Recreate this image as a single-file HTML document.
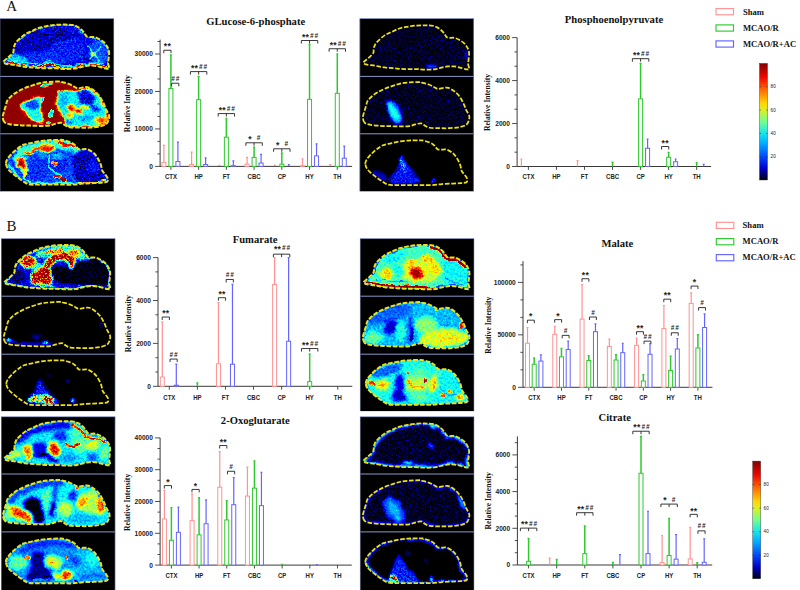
<!DOCTYPE html>
<html lang="en"><head><meta charset="utf-8"><title>Figure</title>
<style>
html,body{margin:0;padding:0;background:#fff}
svg{display:block}
.tk{font:bold 6.6px "Liberation Sans",Arial,sans-serif;fill:#222}
.ct{font:bold 7px "Liberation Sans",Arial,sans-serif;fill:#222}
.ti{font:bold 10.6px "Liberation Serif","Times New Roman",serif;fill:#111}
.yl{font:bold 7.6px "Liberation Serif","Times New Roman",serif;fill:#111}
.lg{font:bold 8.6px "Liberation Serif","Times New Roman",serif;fill:#111}
.st{font:bold 8.6px "Liberation Sans",Arial,sans-serif;fill:#222;letter-spacing:.2px}
.hs{font:italic bold 6.3px "Liberation Sans",Arial,sans-serif;fill:#222;letter-spacing:1px}
.cb{font:4.6px "Liberation Sans",Arial,sans-serif;fill:#181830}
.pl{font:15px "Liberation Serif","Times New Roman",serif;fill:#111}
</style></head><body>
<svg width="800" height="590" viewBox="0 0 800 590">
<defs>
<linearGradient id="jet" x1="0" y1="1" x2="0" y2="0">
<stop offset="0" stop-color="#000000"/><stop offset="0.025" stop-color="#000040"/><stop offset="0.1" stop-color="#0000c8"/>
<stop offset="0.2" stop-color="#0048ff"/><stop offset="0.32" stop-color="#00b0ff"/><stop offset="0.4" stop-color="#18e4ec"/><stop offset="0.5" stop-color="#70ff90"/>
<stop offset="0.6" stop-color="#dcf024"/><stop offset="0.66" stop-color="#ffd400"/><stop offset="0.78" stop-color="#ff6400"/><stop offset="0.88" stop-color="#f00800"/>
<stop offset="1" stop-color="#840000"/></linearGradient>

<filter id="hm" x="-0.02" y="-0.02" width="1.04" height="1.04" color-interpolation-filters="sRGB">
<feGaussianBlur in="SourceGraphic" stdDeviation="0.7" result="b0"/>
<feTurbulence type="fractalNoise" baseFrequency="0.11" numOctaves="2" seed="11" result="tw"/>
<feDisplacementMap in="b0" in2="tw" scale="6" xChannelSelector="R" yChannelSelector="G" result="b"/>
<feTurbulence type="fractalNoise" baseFrequency="0.55" numOctaves="2" seed="7" result="t"/>
<feColorMatrix in="t" type="matrix" values="1 0 0 0 0 1 0 0 0 0 1 0 0 0 0 0 0 0 0 1" result="n"/>
<feComposite in="b" in2="n" operator="arithmetic" k1="-0.15" k2="1.075" k3="0.36" k4="-0.18" result="v"/>
<feComponentTransfer in="v" result="c"><feFuncR type="table" tableValues="0 0 0 0 0 0 0 .25 .5 .75 1 1 1 1 .92 .68 .55"/><feFuncG type="table" tableValues="0 0 0 .25 .5 .75 1 1 1 1 1 .75 .5 .25 0 0 0"/><feFuncB type="table" tableValues="0 .62 1 1 1 1 1 .75 .5 .25 0 0 0 0 0 0 0"/><feFuncA type="linear" slope="0" intercept="1"/></feComponentTransfer>
<feGaussianBlur in="c" stdDeviation="0.45"/>
</filter>
<filter id="hd" x="-0.02" y="-0.02" width="1.04" height="1.04" color-interpolation-filters="sRGB">
<feGaussianBlur in="SourceGraphic" stdDeviation="0.9" result="b0"/>
<feTurbulence type="fractalNoise" baseFrequency="0.11" numOctaves="2" seed="11" result="tw"/>
<feDisplacementMap in="b0" in2="tw" scale="5" xChannelSelector="R" yChannelSelector="G" result="b"/>
<feTurbulence type="fractalNoise" baseFrequency="0.6" numOctaves="2" seed="7" result="t"/>
<feColorMatrix in="t" type="matrix" values="1 0 0 0 0 1 0 0 0 0 1 0 0 0 0 0 0 0 0 1" result="n0"/><feComponentTransfer in="n0" result="n"><feFuncR type="gamma" exponent="4"/><feFuncG type="gamma" exponent="4"/><feFuncB type="gamma" exponent="4"/></feComponentTransfer>
<feComposite in="b" in2="n" operator="arithmetic" k1="0.0" k2="1.0" k3="0.2" k4="0.0" result="v"/>
<feComponentTransfer in="v" result="c"><feFuncR type="table" tableValues="0 0 0 0 0 0 0 .25 .5 .75 1 1 1 1 .92 .68 .55"/><feFuncG type="table" tableValues="0 0 0 .25 .5 .75 1 1 1 1 1 .75 .5 .25 0 0 0"/><feFuncB type="table" tableValues="0 .62 1 1 1 1 1 .75 .5 .25 0 0 0 0 0 0 0"/><feFuncA type="linear" slope="0" intercept="1"/></feComponentTransfer>
<feGaussianBlur in="c" stdDeviation="0.45"/>
</filter>
<filter id="hs" x="-0.02" y="-0.02" width="1.04" height="1.04" color-interpolation-filters="sRGB">
<feGaussianBlur in="SourceGraphic" stdDeviation="0.8" result="b0"/>
<feTurbulence type="fractalNoise" baseFrequency="0.11" numOctaves="2" seed="11" result="tw"/>
<feDisplacementMap in="b0" in2="tw" scale="5" xChannelSelector="R" yChannelSelector="G" result="b"/>
<feTurbulence type="fractalNoise" baseFrequency="0.6" numOctaves="2" seed="7" result="t"/>
<feColorMatrix in="t" type="matrix" values="1 0 0 0 0 1 0 0 0 0 1 0 0 0 0 0 0 0 0 1" result="n"/>
<feComposite in="b" in2="n" operator="arithmetic" k1="2.4" k2="-0.2" k3="0.0" k4="0.0" result="v"/>
<feComponentTransfer in="v" result="c"><feFuncR type="table" tableValues="0 0 0 0 0 0 0 .25 .5 .75 1 1 1 1 .92 .68 .55"/><feFuncG type="table" tableValues="0 0 0 .25 .5 .75 1 1 1 1 1 .75 .5 .25 0 0 0"/><feFuncB type="table" tableValues="0 .62 1 1 1 1 1 .75 .5 .25 0 0 0 0 0 0 0"/><feFuncA type="linear" slope="0" intercept="1"/></feComponentTransfer>
<feGaussianBlur in="c" stdDeviation="0.4"/>
</filter>
<filter id="hl" x="-0.02" y="-0.02" width="1.04" height="1.04" color-interpolation-filters="sRGB">
<feGaussianBlur in="SourceGraphic" stdDeviation="0.7" result="b0"/>
<feTurbulence type="fractalNoise" baseFrequency="0.11" numOctaves="2" seed="11" result="tw"/>
<feDisplacementMap in="b0" in2="tw" scale="5" xChannelSelector="R" yChannelSelector="G" result="b"/>
<feTurbulence type="fractalNoise" baseFrequency="0.45" numOctaves="2" seed="7" result="t"/>
<feColorMatrix in="t" type="matrix" values="1 0 0 0 0 1 0 0 0 0 1 0 0 0 0 0 0 0 0 1" result="n"/>
<feComposite in="b" in2="n" operator="arithmetic" k1="0.3" k2="0.85" k3="0.15" k4="-0.075" result="v"/>
<feComponentTransfer in="v" result="c"><feFuncR type="table" tableValues="0 0 0 0 0 0 0 .25 .5 .75 1 1 1 1 .92 .68 .55"/><feFuncG type="table" tableValues="0 0 0 .25 .5 .75 1 1 1 1 1 .75 .5 .25 0 0 0"/><feFuncB type="table" tableValues="0 .62 1 1 1 1 1 .75 .5 .25 0 0 0 0 0 0 0"/><feFuncA type="linear" slope="0" intercept="1"/></feComponentTransfer>
<feGaussianBlur in="c" stdDeviation="0.5"/>
</filter>
<filter id="hn" x="-0.02" y="-0.02" width="1.04" height="1.04" color-interpolation-filters="sRGB">
<feGaussianBlur in="SourceGraphic" stdDeviation="0.6" result="b0"/>
<feTurbulence type="fractalNoise" baseFrequency="0.11" numOctaves="2" seed="11" result="tw"/>
<feDisplacementMap in="b0" in2="tw" scale="5" xChannelSelector="R" yChannelSelector="G" result="b"/>
<feTurbulence type="fractalNoise" baseFrequency="0.6" numOctaves="2" seed="7" result="t"/>
<feColorMatrix in="t" type="matrix" values="1 0 0 0 0 1 0 0 0 0 1 0 0 0 0 0 0 0 0 1" result="n"/>
<feComposite in="b" in2="n" operator="arithmetic" k1="1.2" k2="0.4" k3="0.18" k4="-0.09" result="v"/>
<feComponentTransfer in="v" result="c"><feFuncR type="table" tableValues="0 0 0 0 0 0 0 .25 .5 .75 1 1 1 1 .92 .68 .55"/><feFuncG type="table" tableValues="0 0 0 .25 .5 .75 1 1 1 1 1 .75 .5 .25 0 0 0"/><feFuncB type="table" tableValues="0 .62 1 1 1 1 1 .75 .5 .25 0 0 0 0 0 0 0"/><feFuncA type="linear" slope="0" intercept="1"/></feComponentTransfer>
<feGaussianBlur in="c" stdDeviation="0.4"/>
</filter>
<filter id="ib16" x="0" y="0" width="1" height="1"><feGaussianBlur stdDeviation="1.7"/></filter>
<filter id="ib12" x="0" y="0" width="1" height="1"><feGaussianBlur stdDeviation="1.2"/></filter>
<filter id="ib10" x="0" y="0" width="1" height="1"><feGaussianBlur stdDeviation="1.0"/></filter>
<filter id="ib08" x="0" y="0" width="1" height="1"><feGaussianBlur stdDeviation="0.7"/></filter>
<filter id="ib06" x="0" y="0" width="1" height="1"><feGaussianBlur stdDeviation="0.5"/></filter>
<clipPath id="c0"><path d="M3.45 61.7C3.95 60.55 7.28 58.37 8.91 56.81C10.54 55.26 12.41 53.91 13.22 52.36C14.04 50.8 13.3 49.17 13.8 47.47C14.3 45.77 14.45 44.28 16.24 42.15C18.04 40.02 21.87 36.57 24.58 34.67C27.29 32.78 30.02 31.94 32.49 30.79C34.96 29.64 36.94 28.57 39.39 27.77C41.83 26.98 44.54 26.53 47.15 26.05C49.76 25.57 52.11 25.14 55.06 24.9C58 24.66 61.88 24.59 64.83 24.61C67.78 24.64 70.61 24.66 72.74 25.04C74.87 25.43 76.16 26.12 77.62 26.91C79.09 27.7 80.36 28.73 81.51 29.79C82.66 30.84 83.71 32.16 84.52 33.24C85.34 34.32 85.65 35.61 86.39 36.26C87.14 36.9 87.66 36.97 88.98 37.12C90.3 37.26 92.6 36.78 94.3 37.12C96 37.45 97.53 38.22 99.19 39.13C100.84 40.04 102.81 41.19 104.22 42.58C105.63 43.97 106.85 45.84 107.67 47.47C108.48 49.1 108.96 50.39 109.11 52.36C109.25 54.32 108.7 57.44 108.53 59.26C108.36 61.08 108 61.8 108.1 63.28C108.2 64.77 109.44 67.28 109.11 68.17C108.77 69.06 107.41 68.77 106.09 68.6C104.77 68.43 103.16 67.64 101.2 67.16C99.24 66.68 96.6 65.96 94.3 65.72C92 65.49 89.7 65.49 87.4 65.72C85.1 65.96 82.63 66.68 80.5 67.16C78.37 67.64 77.22 68.31 74.61 68.6C71.99 68.89 68.09 68.94 64.83 68.89C61.57 68.84 58.48 68.41 55.06 68.31C51.63 68.22 47.73 68.43 44.27 68.31C40.82 68.19 37.64 67.86 34.36 67.59C31.07 67.33 27.84 67.16 24.58 66.73C21.32 66.3 17.92 65.51 14.81 65.01C11.69 64.5 7.79 64.26 5.89 63.71C4 63.16 2.95 62.85 3.45 61.7Z"/></clipPath>
<clipPath id="c1"><path d="M4.46 122.14C3.28 120.99 2.85 118.89 2.73 117.26C2.61 115.63 3.21 114.33 3.74 112.37C4.26 110.4 5.29 107.43 5.89 105.47C6.49 103.5 6.35 102.21 7.33 100.58C8.31 98.95 10.06 97.18 11.79 95.69C13.51 94.21 15.55 92.91 17.68 91.67C19.81 90.42 22.11 89.27 24.58 88.22C27.05 87.16 29.88 86.21 32.49 85.34C35.1 84.48 37.47 83.62 40.25 83.04C43.03 82.47 45.88 82.16 49.16 81.89C52.44 81.63 57.84 81.44 59.94 81.46C62.05 81.49 60.35 81.63 61.81 82.04C63.27 82.44 66.72 83.19 68.71 83.91C70.7 84.62 72.26 85.61 73.74 86.35C75.23 87.09 76 88.19 77.62 88.36C79.25 88.53 81.72 87.52 83.52 87.36C85.32 87.19 86.61 86.78 88.41 87.36C90.2 87.93 92.5 89.42 94.3 90.81C96.1 92.2 97.7 93.73 99.19 95.69C100.67 97.66 102.06 100.29 103.21 102.59C104.36 104.89 105.11 107.36 106.09 109.49C107.07 111.63 108.7 113.59 109.11 115.39C109.51 117.18 109.03 118.81 108.53 120.28C108.03 121.74 107.64 123.1 106.09 124.16C104.53 125.21 101.97 126.02 99.19 126.6C96.41 127.17 92.67 127.44 89.41 127.61C86.15 127.77 82.92 127.68 79.64 127.61C76.36 127.53 72.19 127.58 69.72 127.17C67.25 126.77 66.29 125.91 64.83 125.16C63.37 124.42 62.58 122.93 60.95 122.72C59.32 122.5 57.02 123.39 55.06 123.87C53.09 124.35 51.77 125.26 49.16 125.59C46.55 125.93 42.67 125.88 39.39 125.88C36.11 125.88 32.75 125.71 29.47 125.59C26.19 125.47 22.98 125.4 19.69 125.16C16.41 124.92 12.31 124.66 9.77 124.16C7.24 123.65 5.63 123.29 4.46 122.14Z"/></clipPath>
<clipPath id="c2"><path d="M5.89 163.47C5.73 161.74 6.35 160.64 7.33 159.01C8.31 157.38 10.13 155.39 11.79 153.69C13.44 151.99 15.29 150.29 17.25 148.81C19.21 147.32 21.2 145.76 23.57 144.78C25.95 143.8 28.53 143.56 31.48 142.91C34.43 142.27 37.97 141.38 41.26 140.9C44.54 140.42 48.06 140.21 51.17 140.04C54.29 139.87 58 139.89 59.94 139.89C61.88 139.89 61.19 139.7 62.82 140.04C64.45 140.37 67.75 141.12 69.72 141.91C71.68 142.7 73.22 143.63 74.61 144.78C76 145.93 76.91 148.06 78.06 148.81C79.21 149.55 79.95 149.17 81.51 149.24C83.06 149.31 85.44 148.66 87.4 149.24C89.36 149.81 91.64 151.3 93.29 152.69C94.95 154.08 96.07 155.61 97.32 157.57C98.56 159.54 99.95 162.34 100.77 164.47C101.58 166.61 101.49 168.74 102.21 170.37C102.92 172 104.17 172.93 105.08 174.25C105.99 175.57 107.33 177.03 107.67 178.28C108 179.52 108.17 180.98 107.09 181.72C106.02 182.47 103.64 182.49 101.2 182.73C98.76 182.97 95.55 183.02 92.43 183.16C89.32 183.31 85.79 183.35 82.51 183.59C79.23 183.83 76.02 184.43 72.74 184.6C69.46 184.77 65.77 184.6 62.82 184.6C59.87 184.6 57.67 184.6 55.06 184.6C52.44 184.6 50.1 184.6 47.15 184.6C44.2 184.6 40.49 184.67 37.38 184.6C34.26 184.53 31.1 184.91 28.46 184.17C25.83 183.43 23.84 181.63 21.56 180.14C19.29 178.66 17.01 177.05 14.81 175.26C12.6 173.46 9.82 171.33 8.34 169.36C6.85 167.4 6.06 165.19 5.89 163.47Z"/></clipPath>
<clipPath id="c3"><path d="M363.46 62.42C363.96 61.27 367.29 59.09 368.92 57.53C370.55 55.97 372.42 54.63 373.23 53.07C374.05 51.52 373.3 49.89 373.81 48.19C374.31 46.49 374.45 45 376.25 42.87C378.05 40.74 381.88 37.29 384.59 35.39C387.29 33.5 390.03 32.66 392.49 31.51C394.96 30.36 396.95 29.28 399.39 28.49C401.84 27.7 404.54 27.25 407.16 26.77C409.77 26.29 412.12 25.86 415.06 25.62C418.01 25.38 421.89 25.31 424.84 25.33C427.78 25.36 430.61 25.38 432.74 25.76C434.88 26.15 436.17 26.84 437.63 27.63C439.09 28.42 440.36 29.45 441.51 30.51C442.66 31.56 443.72 32.88 444.53 33.96C445.35 35.03 445.66 36.33 446.4 36.97C447.14 37.62 447.67 37.69 448.99 37.84C450.31 37.98 452.61 37.5 454.31 37.84C456.01 38.17 457.54 38.94 459.19 39.85C460.85 40.76 462.81 41.91 464.23 43.3C465.64 44.69 466.86 46.56 467.68 48.19C468.49 49.82 468.97 51.11 469.11 53.07C469.26 55.04 468.71 58.15 468.54 59.97C468.37 61.8 468.01 62.51 468.11 64C468.2 65.49 469.45 68 469.11 68.89C468.78 69.77 467.41 69.49 466.09 69.32C464.78 69.15 463.17 68.36 461.21 67.88C459.24 67.4 456.61 66.68 454.31 66.44C452.01 66.2 449.71 66.2 447.41 66.44C445.11 66.68 442.64 67.4 440.51 67.88C438.37 68.36 437.22 69.03 434.61 69.32C432 69.61 428.1 69.65 424.84 69.61C421.58 69.56 418.49 69.13 415.06 69.03C411.64 68.94 407.73 69.15 404.28 69.03C400.83 68.91 397.64 68.58 394.36 68.31C391.08 68.05 387.85 67.88 384.59 67.45C381.33 67.02 377.93 66.23 374.81 65.72C371.7 65.22 367.79 64.98 365.9 64.43C364.01 63.88 362.95 63.57 363.46 62.42Z"/></clipPath>
<clipPath id="c4"><path d="M364.61 122.72C363.43 121.57 363 119.46 362.88 117.83C362.76 116.2 363.36 114.91 363.89 112.94C364.41 110.98 365.44 108.01 366.04 106.04C366.64 104.08 366.5 102.79 367.48 101.16C368.46 99.53 370.21 97.75 371.94 96.27C373.66 94.78 375.7 93.49 377.83 92.24C379.96 91 382.26 89.85 384.73 88.79C387.2 87.74 390.03 86.78 392.64 85.92C395.25 85.06 397.62 84.19 400.4 83.62C403.18 83.04 406.03 82.73 409.31 82.47C412.59 82.21 417.99 82.01 420.09 82.04C422.2 82.06 420.5 82.21 421.96 82.61C423.42 83.02 426.87 83.76 428.86 84.48C430.85 85.2 432.41 86.18 433.89 86.92C435.38 87.67 436.15 88.77 437.77 88.94C439.4 89.11 441.87 88.1 443.67 87.93C445.47 87.76 446.76 87.36 448.56 87.93C450.35 88.51 452.65 89.99 454.45 91.38C456.25 92.77 457.85 94.3 459.34 96.27C460.82 98.23 462.21 100.87 463.36 103.17C464.51 105.47 465.26 107.94 466.24 110.07C467.22 112.2 468.85 114.17 469.26 115.96C469.66 117.76 469.18 119.39 468.68 120.85C468.18 122.31 467.79 123.68 466.24 124.73C464.68 125.79 462.12 126.6 459.34 127.17C456.56 127.75 452.82 128.01 449.56 128.18C446.3 128.35 443.07 128.25 439.79 128.18C436.51 128.11 432.34 128.16 429.87 127.75C427.4 127.34 426.44 126.48 424.98 125.74C423.52 124.99 422.73 123.51 421.1 123.29C419.47 123.08 417.17 123.96 415.21 124.44C413.24 124.92 411.92 125.83 409.31 126.17C406.7 126.5 402.82 126.46 399.54 126.46C396.26 126.46 392.9 126.29 389.62 126.17C386.34 126.05 383.13 125.98 379.84 125.74C376.56 125.5 372.46 125.23 369.93 124.73C367.39 124.23 365.78 123.87 364.61 122.72Z"/></clipPath>
<clipPath id="c5"><path d="M365.32 163.9C365.16 162.18 365.78 161.07 366.76 159.44C367.74 157.81 369.57 155.83 371.22 154.12C372.87 152.42 374.72 150.72 376.68 149.24C378.65 147.75 380.63 146.19 383.01 145.21C385.38 144.23 387.97 143.99 390.91 143.34C393.86 142.7 397.41 141.81 400.69 141.33C403.97 140.85 407.49 140.64 410.61 140.47C413.72 140.3 417.43 140.32 419.38 140.32C421.32 140.32 420.62 140.13 422.25 140.47C423.88 140.8 427.19 141.55 429.15 142.34C431.11 143.13 432.65 144.06 434.04 145.21C435.43 146.36 436.34 148.49 437.49 149.24C438.64 149.98 439.38 149.6 440.94 149.67C442.49 149.74 444.87 149.09 446.83 149.67C448.8 150.24 451.07 151.73 452.73 153.12C454.38 154.51 455.5 156.04 456.75 158.01C458 159.97 459.39 162.77 460.2 164.91C461.01 167.04 460.92 169.17 461.64 170.8C462.36 172.43 463.6 173.36 464.51 174.68C465.42 176 466.76 177.46 467.1 178.71C467.44 179.95 467.6 181.41 466.52 182.16C465.45 182.9 463.08 182.92 460.63 183.16C458.19 183.4 454.98 183.45 451.86 183.59C448.75 183.74 445.23 183.79 441.94 184.03C438.66 184.26 435.45 184.86 432.17 185.03C428.89 185.2 425.2 185.03 422.25 185.03C419.3 185.03 417.1 185.03 414.49 185.03C411.88 185.03 409.53 185.03 406.58 185.03C403.63 185.03 399.92 185.1 396.81 185.03C393.69 184.96 390.53 185.34 387.89 184.6C385.26 183.86 383.27 182.06 380.99 180.57C378.72 179.09 376.44 177.48 374.24 175.69C372.03 173.89 369.25 171.76 367.77 169.79C366.28 167.83 365.49 165.62 365.32 163.9Z"/></clipPath>
<clipPath id="c6"><path d="M4.46 282.13C4.96 280.98 8.29 278.8 9.92 277.24C11.55 275.69 13.42 274.34 14.23 272.79C15.05 271.23 14.3 269.6 14.81 267.9C15.31 266.2 15.45 264.71 17.25 262.58C19.05 260.45 22.88 257 25.59 255.11C28.29 253.21 31.03 252.38 33.49 251.22C35.96 250.07 37.95 249 40.39 248.21C42.84 247.42 45.54 246.96 48.16 246.48C50.77 246 53.12 245.57 56.06 245.33C59.01 245.09 62.89 245.02 65.84 245.04C68.78 245.07 71.61 245.09 73.74 245.47C75.88 245.86 77.17 246.55 78.63 247.34C80.09 248.13 81.36 249.16 82.51 250.22C83.66 251.27 84.72 252.59 85.53 253.67C86.35 254.75 86.66 256.04 87.4 256.69C88.14 257.33 88.67 257.41 89.99 257.55C91.31 257.69 93.61 257.21 95.31 257.55C97.01 257.89 98.54 258.65 100.19 259.56C101.85 260.47 103.81 261.62 105.22 263.01C106.64 264.4 107.86 266.27 108.67 267.9C109.49 269.53 109.97 270.82 110.11 272.79C110.26 274.75 109.71 277.87 109.54 279.69C109.37 281.51 109.01 282.23 109.11 283.71C109.2 285.2 110.45 287.71 110.11 288.6C109.78 289.49 108.41 289.2 107.09 289.03C105.78 288.86 104.17 288.07 102.21 287.59C100.24 287.11 97.61 286.4 95.31 286.16C93.01 285.92 90.71 285.92 88.41 286.16C86.11 286.4 83.64 287.11 81.51 287.59C79.37 288.07 78.22 288.74 75.61 289.03C73 289.32 69.1 289.37 65.84 289.32C62.58 289.27 59.49 288.84 56.06 288.74C52.64 288.65 48.73 288.86 45.28 288.74C41.83 288.62 38.64 288.29 35.36 288.02C32.08 287.76 28.85 287.59 25.59 287.16C22.33 286.73 18.93 285.94 15.81 285.44C12.7 284.93 8.79 284.69 6.9 284.14C5.01 283.59 3.95 283.28 4.46 282.13Z"/></clipPath>
<clipPath id="c7"><path d="M5.46 342.57C4.29 341.43 3.86 339.32 3.74 337.69C3.62 336.06 4.22 334.76 4.74 332.8C5.27 330.84 6.3 327.86 6.9 325.9C7.5 323.94 7.36 322.64 8.34 321.01C9.32 319.38 11.07 317.61 12.79 316.12C14.52 314.64 16.56 313.35 18.69 312.1C20.82 310.85 23.12 309.7 25.59 308.65C28.06 307.6 30.88 306.64 33.49 305.77C36.11 304.91 38.48 304.05 41.26 303.48C44.04 302.9 46.89 302.59 50.17 302.32C53.45 302.06 58.84 301.87 60.95 301.89C63.06 301.92 61.36 302.06 62.82 302.47C64.28 302.88 67.73 303.62 69.72 304.34C71.71 305.06 73.26 306.04 74.75 306.78C76.24 307.52 77 308.63 78.63 308.79C80.26 308.96 82.73 307.96 84.52 307.79C86.32 307.62 87.62 307.21 89.41 307.79C91.21 308.36 93.51 309.85 95.31 311.24C97.1 312.63 98.71 314.16 100.19 316.12C101.68 318.09 103.07 320.72 104.22 323.02C105.37 325.32 106.11 327.79 107.09 329.93C108.08 332.06 109.71 334.02 110.11 335.82C110.52 337.62 110.04 339.24 109.54 340.71C109.03 342.17 108.65 343.53 107.09 344.59C105.54 345.64 102.97 346.46 100.19 347.03C97.41 347.61 93.68 347.87 90.42 348.04C87.16 348.21 83.93 348.11 80.64 348.04C77.36 347.97 73.19 348.01 70.72 347.61C68.26 347.2 67.3 346.34 65.84 345.59C64.38 344.85 63.59 343.37 61.96 343.15C60.33 342.93 58.03 343.82 56.06 344.3C54.1 344.78 52.78 345.69 50.17 346.02C47.56 346.36 43.68 346.31 40.39 346.31C37.11 346.31 33.76 346.14 30.47 346.02C27.19 345.91 23.98 345.83 20.7 345.59C17.42 345.35 13.32 345.09 10.78 344.59C8.24 344.08 6.64 343.72 5.46 342.57Z"/></clipPath>
<clipPath id="c8"><path d="M6.32 383.9C6.16 382.17 6.78 381.07 7.76 379.44C8.74 377.81 10.57 375.83 12.22 374.12C13.87 372.42 15.72 370.72 17.68 369.24C19.65 367.75 21.63 366.19 24.01 365.21C26.38 364.23 28.97 363.99 31.91 363.34C34.86 362.7 38.41 361.81 41.69 361.33C44.97 360.85 48.49 360.64 51.61 360.47C54.72 360.3 58.43 360.32 60.37 360.32C62.32 360.32 61.62 360.13 63.25 360.47C64.88 360.8 68.19 361.55 70.15 362.34C72.11 363.13 73.65 364.06 75.04 365.21C76.43 366.36 77.34 368.49 78.49 369.24C79.64 369.98 80.38 369.6 81.94 369.67C83.49 369.74 85.87 369.09 87.83 369.67C89.8 370.24 92.07 371.73 93.72 373.12C95.38 374.51 96.5 376.04 97.75 378.01C99 379.97 100.39 382.77 101.2 384.91C102.01 387.04 101.92 389.17 102.64 390.8C103.36 392.43 104.6 393.36 105.51 394.68C106.42 396 107.76 397.46 108.1 398.71C108.44 399.95 108.6 401.41 107.52 402.16C106.45 402.9 104.07 402.92 101.63 403.16C99.19 403.4 95.98 403.45 92.86 403.59C89.75 403.74 86.23 403.79 82.94 404.02C79.66 404.26 76.45 404.86 73.17 405.03C69.89 405.2 66.2 405.03 63.25 405.03C60.3 405.03 58.1 405.03 55.49 405.03C52.88 405.03 50.53 405.03 47.58 405.03C44.63 405.03 40.92 405.1 37.81 405.03C34.69 404.96 31.53 405.34 28.89 404.6C26.26 403.86 24.27 402.06 21.99 400.57C19.72 399.09 17.44 397.48 15.24 395.69C13.03 393.89 10.25 391.76 8.77 389.79C7.28 387.83 6.49 385.62 6.32 383.9Z"/></clipPath>
<clipPath id="c9"><path d="M4.46 458.26C4.96 457.11 8.29 454.93 9.92 453.38C11.55 451.82 13.42 450.48 14.23 448.92C15.05 447.36 14.3 445.73 14.81 444.03C15.31 442.33 15.45 440.84 17.25 438.71C19.05 436.58 22.88 433.13 25.59 431.24C28.29 429.34 31.03 428.51 33.49 427.36C35.96 426.21 37.95 425.13 40.39 424.34C42.84 423.55 45.54 423.09 48.16 422.61C50.77 422.13 53.12 421.7 56.06 421.46C59.01 421.22 62.89 421.15 65.84 421.18C68.78 421.2 71.61 421.22 73.74 421.61C75.88 421.99 77.17 422.68 78.63 423.48C80.09 424.27 81.36 425.3 82.51 426.35C83.66 427.4 84.72 428.72 85.53 429.8C86.35 430.88 86.66 432.17 87.4 432.82C88.14 433.47 88.67 433.54 89.99 433.68C91.31 433.82 93.61 433.35 95.31 433.68C97.01 434.02 98.54 434.78 100.19 435.69C101.85 436.6 103.81 437.75 105.22 439.14C106.64 440.53 107.86 442.4 108.67 444.03C109.49 445.66 109.97 446.95 110.11 448.92C110.26 450.88 109.71 454 109.54 455.82C109.37 457.64 109.01 458.36 109.11 459.84C109.2 461.33 110.45 463.84 110.11 464.73C109.78 465.62 108.41 465.33 107.09 465.16C105.78 464.99 104.17 464.2 102.21 463.73C100.24 463.25 97.61 462.53 95.31 462.29C93.01 462.05 90.71 462.05 88.41 462.29C86.11 462.53 83.64 463.25 81.51 463.73C79.37 464.2 78.22 464.88 75.61 465.16C73 465.45 69.1 465.5 65.84 465.45C62.58 465.4 59.49 464.97 56.06 464.88C52.64 464.78 48.73 464.99 45.28 464.88C41.83 464.76 38.64 464.42 35.36 464.16C32.08 463.89 28.85 463.72 25.59 463.29C22.33 462.86 18.93 462.07 15.81 461.57C12.7 461.07 8.79 460.83 6.9 460.27C5.01 459.72 3.95 459.41 4.46 458.26Z"/></clipPath>
<clipPath id="c10"><path d="M4.74 520.58C3.57 519.43 3.14 517.32 3.02 515.69C2.9 514.06 3.5 512.76 4.02 510.8C4.55 508.84 5.58 505.86 6.18 503.9C6.78 501.94 6.64 500.64 7.62 499.01C8.6 497.38 10.35 495.61 12.07 494.12C13.8 492.64 15.84 491.35 17.97 490.1C20.1 488.85 22.4 487.7 24.87 486.65C27.34 485.6 30.16 484.64 32.77 483.77C35.39 482.91 37.76 482.05 40.54 481.48C43.32 480.9 46.17 480.59 49.45 480.32C52.73 480.06 58.12 479.87 60.23 479.89C62.34 479.92 60.64 480.06 62.1 480.47C63.56 480.88 67.01 481.62 69 482.34C70.99 483.06 72.55 484.04 74.03 484.78C75.52 485.52 76.28 486.63 77.91 486.79C79.54 486.96 82.01 485.96 83.81 485.79C85.6 485.62 86.9 485.21 88.69 485.79C90.49 486.36 92.79 487.85 94.59 489.24C96.38 490.63 97.99 492.16 99.47 494.12C100.96 496.09 102.35 498.72 103.5 501.02C104.65 503.32 105.39 505.79 106.37 507.93C107.36 510.06 108.99 512.02 109.39 513.82C109.8 515.62 109.32 517.24 108.82 518.71C108.32 520.17 107.93 521.53 106.37 522.59C104.82 523.64 102.25 524.46 99.47 525.03C96.7 525.61 92.96 525.87 89.7 526.04C86.44 526.21 83.21 526.11 79.92 526.04C76.64 525.97 72.47 526.01 70.01 525.61C67.54 525.2 66.58 524.34 65.12 523.59C63.66 522.85 62.87 521.37 61.24 521.15C59.61 520.93 57.31 521.82 55.34 522.3C53.38 522.78 52.06 523.69 49.45 524.02C46.84 524.36 42.96 524.31 39.67 524.31C36.39 524.31 33.04 524.14 29.76 524.02C26.47 523.91 23.26 523.83 19.98 523.59C16.7 523.35 12.6 523.09 10.06 522.59C7.52 522.08 5.92 521.73 4.74 520.58Z"/></clipPath>
<clipPath id="c11"><path d="M5.89 562.19C5.73 560.46 6.35 559.36 7.33 557.73C8.31 556.1 10.13 554.11 11.79 552.41C13.44 550.71 15.29 549.01 17.25 547.52C19.21 546.04 21.2 544.48 23.57 543.5C25.95 542.52 28.53 542.28 31.48 541.63C34.43 540.98 37.97 540.1 41.26 539.62C44.54 539.14 48.06 538.92 51.17 538.76C54.29 538.59 58 538.61 59.94 538.61C61.88 538.61 61.19 538.42 62.82 538.76C64.45 539.09 67.75 539.83 69.72 540.62C71.68 541.42 73.22 542.35 74.61 543.5C76 544.65 76.91 546.78 78.06 547.52C79.21 548.27 79.95 547.88 81.51 547.96C83.06 548.03 85.44 547.38 87.4 547.96C89.36 548.53 91.64 550.02 93.29 551.41C94.95 552.8 96.07 554.33 97.32 556.29C98.56 558.26 99.95 561.06 100.77 563.19C101.58 565.33 101.49 567.46 102.21 569.09C102.92 570.72 104.17 571.65 105.08 572.97C105.99 574.29 107.33 575.75 107.67 576.99C108 578.24 108.17 579.7 107.09 580.44C106.02 581.19 103.64 581.21 101.2 581.45C98.76 581.69 95.55 581.74 92.43 581.88C89.32 582.02 85.79 582.07 82.51 582.31C79.23 582.55 76.02 583.15 72.74 583.32C69.46 583.49 65.77 583.32 62.82 583.32C59.87 583.32 57.67 583.32 55.06 583.32C52.44 583.32 50.1 583.32 47.15 583.32C44.2 583.32 40.49 583.39 37.38 583.32C34.26 583.25 31.1 583.63 28.46 582.89C25.83 582.14 23.84 580.35 21.56 578.86C19.29 577.38 17.01 575.77 14.81 573.98C12.6 572.18 9.82 570.05 8.34 568.08C6.85 566.12 6.06 563.91 5.89 562.19Z"/></clipPath>
<clipPath id="c12"><path d="M363.74 282.13C364.25 280.98 367.58 278.8 369.21 277.24C370.84 275.69 372.7 274.34 373.52 272.79C374.33 271.23 373.59 269.6 374.09 267.9C374.6 266.2 374.74 264.71 376.54 262.58C378.33 260.45 382.17 257 384.88 255.11C387.58 253.21 390.31 252.38 392.78 251.22C395.25 250.07 397.24 249 399.68 248.21C402.12 247.42 404.83 246.96 407.44 246.48C410.06 246 412.4 245.57 415.35 245.33C418.3 245.09 422.18 245.02 425.12 245.04C428.07 245.07 430.9 245.09 433.03 245.47C435.16 245.86 436.46 246.55 437.92 247.34C439.38 248.13 440.65 249.16 441.8 250.22C442.95 251.27 444 252.59 444.82 253.67C445.63 254.75 445.94 256.04 446.69 256.69C447.43 257.33 447.96 257.41 449.27 257.55C450.59 257.69 452.89 257.21 454.59 257.55C456.29 257.89 457.83 258.65 459.48 259.56C461.13 260.47 463.1 261.62 464.51 263.01C465.93 264.4 467.15 266.27 467.96 267.9C468.78 269.53 469.26 270.82 469.4 272.79C469.54 274.75 468.99 277.87 468.82 279.69C468.66 281.51 468.3 282.23 468.39 283.71C468.49 285.2 469.74 287.71 469.4 288.6C469.06 289.49 467.7 289.2 466.38 289.03C465.06 288.86 463.46 288.07 461.49 287.59C459.53 287.11 456.89 286.4 454.59 286.16C452.29 285.92 449.99 285.92 447.69 286.16C445.39 286.4 442.93 287.11 440.79 287.59C438.66 288.07 437.51 288.74 434.9 289.03C432.29 289.32 428.38 289.37 425.12 289.32C421.87 289.27 418.78 288.84 415.35 288.74C411.92 288.65 408.02 288.86 404.57 288.74C401.12 288.62 397.93 288.29 394.65 288.02C391.37 287.76 388.13 287.59 384.88 287.16C381.62 286.73 378.21 285.94 375.1 285.44C371.99 284.93 368.08 284.69 366.19 284.14C364.29 283.59 363.24 283.28 363.74 282.13Z"/></clipPath>
<clipPath id="c13"><path d="M364.61 342.72C363.43 341.57 363 339.46 362.88 337.83C362.76 336.2 363.36 334.91 363.89 332.94C364.41 330.98 365.44 328.01 366.04 326.04C366.64 324.08 366.5 322.79 367.48 321.16C368.46 319.53 370.21 317.75 371.94 316.27C373.66 314.78 375.7 313.49 377.83 312.24C379.96 311 382.26 309.85 384.73 308.79C387.2 307.74 390.03 306.78 392.64 305.92C395.25 305.06 397.62 304.19 400.4 303.62C403.18 303.04 406.03 302.73 409.31 302.47C412.59 302.21 417.99 302.01 420.09 302.04C422.2 302.06 420.5 302.21 421.96 302.61C423.42 303.02 426.87 303.76 428.86 304.48C430.85 305.2 432.41 306.18 433.89 306.93C435.38 307.67 436.15 308.77 437.77 308.94C439.4 309.11 441.87 308.1 443.67 307.93C445.47 307.76 446.76 307.36 448.56 307.93C450.35 308.51 452.65 309.99 454.45 311.38C456.25 312.77 457.85 314.3 459.34 316.27C460.82 318.23 462.21 320.87 463.36 323.17C464.51 325.47 465.26 327.94 466.24 330.07C467.22 332.2 468.85 334.17 469.26 335.96C469.66 337.76 469.18 339.39 468.68 340.85C468.18 342.31 467.79 343.68 466.24 344.73C464.68 345.79 462.12 346.6 459.34 347.18C456.56 347.75 452.82 348.01 449.56 348.18C446.3 348.35 443.07 348.25 439.79 348.18C436.51 348.11 432.34 348.16 429.87 347.75C427.4 347.34 426.44 346.48 424.98 345.74C423.52 344.99 422.73 343.51 421.1 343.29C419.47 343.08 417.17 343.96 415.21 344.44C413.24 344.92 411.92 345.83 409.31 346.17C406.7 346.5 402.82 346.46 399.54 346.46C396.26 346.46 392.9 346.29 389.62 346.17C386.34 346.05 383.13 345.98 379.84 345.74C376.56 345.5 372.46 345.23 369.93 344.73C367.39 344.23 365.78 343.87 364.61 342.72Z"/></clipPath>
<clipPath id="c14"><path d="M365.76 383.61C365.59 381.89 366.21 380.79 367.19 379.16C368.18 377.53 370 375.54 371.65 373.84C373.3 372.14 375.15 370.44 377.11 368.95C379.08 367.46 381.07 365.91 383.44 364.93C385.81 363.94 388.4 363.7 391.34 363.06C394.29 362.41 397.84 361.52 401.12 361.04C404.4 360.56 407.92 360.35 411.04 360.18C414.15 360.01 417.87 360.04 419.81 360.04C421.75 360.04 421.05 359.85 422.68 360.18C424.31 360.52 427.62 361.26 429.58 362.05C431.55 362.84 433.08 363.78 434.47 364.93C435.86 366.07 436.77 368.21 437.92 368.95C439.07 369.69 439.81 369.31 441.37 369.38C442.93 369.45 445.3 368.81 447.26 369.38C449.23 369.96 451.5 371.44 453.16 372.83C454.81 374.22 455.94 375.75 457.18 377.72C458.43 379.68 459.82 382.49 460.63 384.62C461.45 386.75 461.35 388.88 462.07 390.51C462.79 392.14 464.03 393.08 464.94 394.39C465.85 395.71 467.2 397.17 467.53 398.42C467.87 399.66 468.03 401.13 466.96 401.87C465.88 402.61 463.51 402.64 461.06 402.88C458.62 403.11 455.41 403.16 452.29 403.31C449.18 403.45 445.66 403.5 442.38 403.74C439.09 403.98 435.88 404.58 432.6 404.74C429.32 404.91 425.63 404.74 422.68 404.74C419.73 404.74 417.53 404.74 414.92 404.74C412.31 404.74 409.96 404.74 407.01 404.74C404.07 404.74 400.35 404.82 397.24 404.74C394.12 404.67 390.96 405.06 388.32 404.31C385.69 403.57 383.7 401.77 381.43 400.29C379.15 398.8 376.87 397.2 374.67 395.4C372.46 393.6 369.69 391.47 368.2 389.51C366.71 387.54 365.92 385.34 365.76 383.61Z"/></clipPath>
<clipPath id="c15"><path d="M363.46 460.56C363.96 459.41 367.29 457.23 368.92 455.68C370.55 454.12 372.42 452.78 373.23 451.22C374.05 449.66 373.3 448.03 373.81 446.33C374.31 444.63 374.45 443.14 376.25 441.01C378.05 438.88 381.88 435.43 384.59 433.54C387.29 431.64 390.03 430.81 392.49 429.66C394.96 428.51 396.95 427.43 399.39 426.64C401.84 425.85 404.54 425.39 407.16 424.91C409.77 424.43 412.12 424 415.06 423.76C418.01 423.52 421.89 423.45 424.84 423.48C427.78 423.5 430.61 423.52 432.74 423.91C434.88 424.29 436.17 424.98 437.63 425.77C439.09 426.57 440.36 427.6 441.51 428.65C442.66 429.7 443.72 431.02 444.53 432.1C445.35 433.18 445.66 434.47 446.4 435.12C447.14 435.77 447.67 435.84 448.99 435.98C450.31 436.12 452.61 435.65 454.31 435.98C456.01 436.32 457.54 437.08 459.19 437.99C460.85 438.9 462.81 440.05 464.23 441.44C465.64 442.83 466.86 444.7 467.68 446.33C468.49 447.96 468.97 449.25 469.11 451.22C469.26 453.18 468.71 456.3 468.54 458.12C468.37 459.94 468.01 460.66 468.11 462.14C468.2 463.63 469.45 466.14 469.11 467.03C468.78 467.92 467.41 467.63 466.09 467.46C464.78 467.29 463.17 466.5 461.21 466.02C459.24 465.55 456.61 464.83 454.31 464.59C452.01 464.35 449.71 464.35 447.41 464.59C445.11 464.83 442.64 465.55 440.51 466.02C438.37 466.5 437.22 467.17 434.61 467.46C432 467.75 428.1 467.8 424.84 467.75C421.58 467.7 418.49 467.27 415.06 467.18C411.64 467.08 407.73 467.29 404.28 467.18C400.83 467.06 397.64 466.72 394.36 466.46C391.08 466.19 387.85 466.02 384.59 465.59C381.33 465.16 377.93 464.37 374.81 463.87C371.7 463.37 367.79 463.13 365.9 462.57C364.01 462.02 362.95 461.71 363.46 460.56Z"/></clipPath>
<clipPath id="c16"><path d="M364.61 520.86C363.43 519.71 363 517.6 362.88 515.98C362.76 514.35 363.36 513.05 363.89 511.09C364.41 509.12 365.44 506.15 366.04 504.19C366.64 502.22 366.5 500.93 367.48 499.3C368.46 497.67 370.21 495.9 371.94 494.41C373.66 492.93 375.7 491.63 377.83 490.39C379.96 489.14 382.26 487.99 384.73 486.94C387.2 485.88 390.03 484.93 392.64 484.06C395.25 483.2 397.62 482.34 400.4 481.76C403.18 481.19 406.03 480.88 409.31 480.61C412.59 480.35 417.99 480.16 420.09 480.18C422.2 480.21 420.5 480.35 421.96 480.76C423.42 481.16 426.87 481.91 428.86 482.62C430.85 483.34 432.41 484.33 433.89 485.07C435.38 485.81 436.15 486.91 437.77 487.08C439.4 487.25 441.87 486.24 443.67 486.07C445.47 485.91 446.76 485.5 448.56 486.07C450.35 486.65 452.65 488.14 454.45 489.52C456.25 490.91 457.85 492.45 459.34 494.41C460.82 496.38 462.21 499.01 463.36 501.31C464.51 503.61 465.26 506.08 466.24 508.21C467.22 510.34 468.85 512.31 469.26 514.11C469.66 515.9 469.18 517.53 468.68 518.99C468.18 520.46 467.79 521.82 466.24 522.88C464.68 523.93 462.12 524.74 459.34 525.32C456.56 525.89 452.82 526.16 449.56 526.33C446.3 526.49 443.07 526.4 439.79 526.33C436.51 526.25 432.34 526.3 429.87 525.89C427.4 525.49 426.44 524.62 424.98 523.88C423.52 523.14 422.73 521.65 421.1 521.44C419.47 521.22 417.17 522.11 415.21 522.59C413.24 523.07 411.92 523.98 409.31 524.31C406.7 524.65 402.82 524.6 399.54 524.6C396.26 524.6 392.9 524.43 389.62 524.31C386.34 524.19 383.13 524.12 379.84 523.88C376.56 523.64 372.46 523.38 369.93 522.88C367.39 522.37 365.78 522.01 364.61 520.86Z"/></clipPath>
<clipPath id="c17"><path d="M365.32 561.9C365.16 560.17 365.78 559.07 366.76 557.44C367.74 555.81 369.57 553.83 371.22 552.12C372.87 550.42 374.72 548.72 376.68 547.24C378.65 545.75 380.63 544.19 383.01 543.21C385.38 542.23 387.97 541.99 390.91 541.34C393.86 540.7 397.41 539.81 400.69 539.33C403.97 538.85 407.49 538.64 410.61 538.47C413.72 538.3 417.43 538.33 419.38 538.33C421.32 538.33 420.62 538.13 422.25 538.47C423.88 538.8 427.19 539.55 429.15 540.34C431.11 541.13 432.65 542.06 434.04 543.21C435.43 544.36 436.34 546.49 437.49 547.24C438.64 547.98 439.38 547.6 440.94 547.67C442.49 547.74 444.87 547.09 446.83 547.67C448.8 548.24 451.07 549.73 452.73 551.12C454.38 552.51 455.5 554.04 456.75 556.01C458 557.97 459.39 560.77 460.2 562.91C461.01 565.04 460.92 567.17 461.64 568.8C462.36 570.43 463.6 571.36 464.51 572.68C465.42 574 466.76 575.46 467.1 576.71C467.44 577.95 467.6 579.41 466.52 580.16C465.45 580.9 463.08 580.92 460.63 581.16C458.19 581.4 454.98 581.45 451.86 581.59C448.75 581.74 445.23 581.79 441.94 582.02C438.66 582.26 435.45 582.86 432.17 583.03C428.89 583.2 425.2 583.03 422.25 583.03C419.3 583.03 417.1 583.03 414.49 583.03C411.88 583.03 409.53 583.03 406.58 583.03C403.63 583.03 399.92 583.1 396.81 583.03C393.69 582.96 390.53 583.34 387.89 582.6C385.26 581.86 383.27 580.06 380.99 578.58C378.72 577.09 376.44 575.48 374.24 573.69C372.03 571.89 369.25 569.76 367.77 567.79C366.28 565.83 365.49 563.62 365.32 561.9Z"/></clipPath>
</defs>
<rect width="800" height="590" fill="#fff"/>
<text x="6.3" y="10.8" class="pl">A</text>
<text x="6.6" y="231.3" class="pl">B</text>
<rect x="0" y="18.6" width="113.8" height="172.7" fill="#000"/>
<rect x="1.3" y="238.6" width="113.8" height="172.5" fill="#000"/>
<rect x="1.3" y="416.8" width="113.8" height="173.2" fill="#000"/>
<path d="M0 76.4h113.8M0 133.8h113.8M1.3 296.2h113.8M1.3 354.2h113.8M1.3 474.0h113.8M1.3 531.9h113.8" stroke="#8797cc" stroke-width="1" fill="none"/>
<path d="M0 18.5h113.8M1.3 238.5h113.8M1.3 416.7h113.8" stroke="#8797cc" stroke-width="0.7" fill="none"/>
<path d="M113.6 18.6v172.7M114.89999999999999 238.6v172.5M114.89999999999999 416.8v173.2M0.2 18.6v172.7M1.5 238.6v172.5M1.5 416.8v173.2" stroke="#5a678f" stroke-width="0.6" fill="none"/>
<rect x="359.8" y="18.6" width="113.8" height="172.7" fill="#000"/>
<rect x="360.2" y="238.6" width="113.8" height="172.5" fill="#000"/>
<rect x="360.2" y="416.8" width="113.8" height="173.2" fill="#000"/>
<path d="M359.8 76.4h113.8M359.8 133.8h113.8M360.2 296.2h113.8M360.2 354.2h113.8M360.2 474.0h113.8M360.2 531.9h113.8" stroke="#8797cc" stroke-width="1" fill="none"/>
<path d="M359.8 18.5h113.8M360.2 238.5h113.8M360.2 416.7h113.8" stroke="#8797cc" stroke-width="0.7" fill="none"/>
<path d="M473.4 18.6v172.7M473.79999999999995 238.6v172.5M473.79999999999995 416.8v173.2M360.0 18.6v172.7M360.4 238.6v172.5M360.4 416.8v173.2" stroke="#5a678f" stroke-width="0.6" fill="none"/>
<g clip-path="url(#c0)"><g filter="url(#hm)">
<g filter="url(#ib12)"><rect x="-8" y="10" width="131" height="74" fill="#1a1a1a"/>
<ellipse cx="47.44" cy="56.81" rx="37.38" ry="7.91" fill="#2b2b2b" transform="rotate(-2 47.44 56.81)"/>
<ellipse cx="67.56" cy="47.47" rx="17.25" ry="10.06" fill="#262626"/>
<ellipse cx="35.94" cy="42.44" rx="18.69" ry="10.06" fill="#131313" transform="rotate(-15 35.94 42.44)"/>
<ellipse cx="57.5" cy="35.25" rx="17.25" ry="5.75" fill="#141414"/>
<ellipse cx="17.25" cy="59.4" rx="10.78" ry="3.45" fill="#525252" transform="rotate(8 17.25 59.4)"/>
<ellipse cx="97.75" cy="52.5" rx="10.06" ry="12.94" fill="#363636"/></g>
<path d="M3.45 61.7C3.95 60.55 7.28 58.37 8.91 56.81C10.54 55.26 12.41 53.91 13.22 52.36C14.04 50.8 13.3 49.17 13.8 47.47C14.3 45.77 14.45 44.28 16.24 42.15C18.04 40.02 21.87 36.57 24.58 34.67C27.29 32.78 30.02 31.94 32.49 30.79C34.96 29.64 36.94 28.57 39.39 27.77C41.83 26.98 44.54 26.53 47.15 26.05C49.76 25.57 52.11 25.14 55.06 24.9C58 24.66 61.88 24.59 64.83 24.61C67.78 24.64 70.61 24.66 72.74 25.04C74.87 25.43 76.16 26.12 77.62 26.91C79.09 27.7 80.36 28.73 81.51 29.79C82.66 30.84 83.71 32.16 84.52 33.24C85.34 34.32 85.65 35.61 86.39 36.26C87.14 36.9 87.66 36.97 88.98 37.12C90.3 37.26 92.6 36.78 94.3 37.12C96 37.45 97.53 38.22 99.19 39.13C100.84 40.04 102.81 41.19 104.22 42.58C105.63 43.97 106.85 45.84 107.67 47.47C108.48 49.1 108.96 50.39 109.11 52.36C109.25 54.32 108.7 57.44 108.53 59.26C108.36 61.08 108 61.8 108.1 63.28C108.2 64.77 109.44 67.28 109.11 68.17C108.77 69.06 107.41 68.77 106.09 68.6C104.77 68.43 103.16 67.64 101.2 67.16C99.24 66.68 96.6 65.96 94.3 65.72C92 65.49 89.7 65.49 87.4 65.72C85.1 65.96 82.63 66.68 80.5 67.16C78.37 67.64 77.22 68.31 74.61 68.6C71.99 68.89 68.09 68.94 64.83 68.89C61.57 68.84 58.48 68.41 55.06 68.31C51.63 68.22 47.73 68.43 44.27 68.31C40.82 68.19 37.64 67.86 34.36 67.59C31.07 67.33 27.84 67.16 24.58 66.73C21.32 66.3 17.92 65.51 14.81 65.01C11.69 64.5 7.79 64.26 5.89 63.71C4 63.16 2.95 62.85 3.45 61.7Z" fill="none" stroke="#474747" stroke-width="2"/>
<path d="M87.69 46.03L99.19 61.84" fill="none" stroke="#636363" stroke-width="1.44" stroke-linecap="round" stroke-linejoin="round"/>
<path d="M100.62 46.75L89.12 59.69" fill="none" stroke="#636363" stroke-width="1.44" stroke-linecap="round" stroke-linejoin="round"/>
<ellipse cx="93.44" cy="54.66" rx="3.16" ry="2.01" fill="#8f8f8f" transform="rotate(40 93.44 54.66)"/>
<path d="M8.62 62.71L14.81 63.71L24.58 65.44L34.36 66.3L41.69 66.59L48.16 64.29L55.06 66.88L64.83 67.59L74.61 67.31L80.5 65.87L87.4 64.43L94.3 64.43L101.2 65.87L105.66 67.16" fill="none" stroke="#ebebeb" stroke-width="1.87" stroke-linecap="round" stroke-linejoin="round"/>
<ellipse cx="48.16" cy="64.72" rx="3.74" ry="1.29" fill="#ebebeb"/>
<path d="M7.19 60.69L21.56 62.27L35.94 63.71L43.12 63.14L49.59 61.56L56.06 64.29L64.69 65.44L74.75 65.15L86.25 62.71L103.5 63.14" fill="none" stroke="#6b6b6b" stroke-width="1.01" stroke-linecap="round" stroke-linejoin="round"/>
</g></g>
<path d="M3.45 61.7C3.95 60.55 7.28 58.37 8.91 56.81C10.54 55.26 12.41 53.91 13.22 52.36C14.04 50.8 13.3 49.17 13.8 47.47C14.3 45.77 14.45 44.28 16.24 42.15C18.04 40.02 21.87 36.57 24.58 34.67C27.29 32.78 30.02 31.94 32.49 30.79C34.96 29.64 36.94 28.57 39.39 27.77C41.83 26.98 44.54 26.53 47.15 26.05C49.76 25.57 52.11 25.14 55.06 24.9C58 24.66 61.88 24.59 64.83 24.61C67.78 24.64 70.61 24.66 72.74 25.04C74.87 25.43 76.16 26.12 77.62 26.91C79.09 27.7 80.36 28.73 81.51 29.79C82.66 30.84 83.71 32.16 84.52 33.24C85.34 34.32 85.65 35.61 86.39 36.26C87.14 36.9 87.66 36.97 88.98 37.12C90.3 37.26 92.6 36.78 94.3 37.12C96 37.45 97.53 38.22 99.19 39.13C100.84 40.04 102.81 41.19 104.22 42.58C105.63 43.97 106.85 45.84 107.67 47.47C108.48 49.1 108.96 50.39 109.11 52.36C109.25 54.32 108.7 57.44 108.53 59.26C108.36 61.08 108 61.8 108.1 63.28C108.2 64.77 109.44 67.28 109.11 68.17C108.77 69.06 107.41 68.77 106.09 68.6C104.77 68.43 103.16 67.64 101.2 67.16C99.24 66.68 96.6 65.96 94.3 65.72C92 65.49 89.7 65.49 87.4 65.72C85.1 65.96 82.63 66.68 80.5 67.16C78.37 67.64 77.22 68.31 74.61 68.6C71.99 68.89 68.09 68.94 64.83 68.89C61.57 68.84 58.48 68.41 55.06 68.31C51.63 68.22 47.73 68.43 44.27 68.31C40.82 68.19 37.64 67.86 34.36 67.59C31.07 67.33 27.84 67.16 24.58 66.73C21.32 66.3 17.92 65.51 14.81 65.01C11.69 64.5 7.79 64.26 5.89 63.71C4 63.16 2.95 62.85 3.45 61.7Z" fill="none" stroke="#ece21c" stroke-width="2" stroke-dasharray="4.6 1.7" stroke-linecap="butt"/>
<g clip-path="url(#c1)"><g filter="url(#hm)">
<g filter="url(#ib12)"><rect x="-8" y="68" width="131" height="74" fill="#ffffff"/>
<path d="M58.94 91.09C61.93 89.9 71.16 90.69 74.75 90.38C78.34 90.06 77.62 89.34 80.5 89.22C83.38 89.11 88.65 88.27 92 89.66C95.35 91.05 98.23 94.09 100.62 97.56C103.02 101.04 105.13 106.67 106.37 110.5C107.62 114.33 108.53 118.05 108.1 120.56C107.67 123.08 108.39 124.54 103.79 125.59C99.19 126.65 86.54 126.84 80.5 126.89C74.46 126.94 70.15 127.17 67.56 125.88C64.97 124.59 66.65 121.81 64.97 119.12C63.3 116.44 58.87 113.38 57.5 109.78C56.13 106.19 56.54 100.68 56.78 97.56C57.02 94.45 55.94 92.29 58.94 91.09Z" fill="#5e5e5e"/>
<ellipse cx="86.25" cy="97.56" rx="9.77" ry="6.9" fill="#1a1a1a" transform="rotate(15 86.25 97.56)"/>
<ellipse cx="94.87" cy="107.91" rx="6.04" ry="3.45" fill="#2b2b2b" transform="rotate(30 94.87 107.91)"/>
<ellipse cx="71.16" cy="108.49" rx="3.74" ry="3.16" fill="#dedede"/>
<ellipse cx="78.77" cy="111.65" rx="4.31" ry="2.88" fill="#dedede" transform="rotate(10 78.77 111.65)"/>
<ellipse cx="102.21" cy="120.28" rx="4.89" ry="4.02" fill="#d4d4d4"/>
<ellipse cx="69.72" cy="115.67" rx="3.16" ry="2.3" fill="#b8b8b8"/>
<ellipse cx="96.31" cy="120.56" rx="3.16" ry="2.3" fill="#b8b8b8"/>
<ellipse cx="69.72" cy="121.71" rx="5.17" ry="2.88" fill="#474747"/>
<ellipse cx="86.25" cy="117.97" rx="7.91" ry="2.88" fill="#474747"/>
<ellipse cx="64.69" cy="100.44" rx="5.03" ry="6.9" fill="#4f4f4f"/>
<path d="M21.13 104.46C22.02 102.07 27.55 100.46 30.91 99C34.26 97.54 39.41 94.02 41.26 95.69C43.1 97.37 41.81 104.65 41.97 109.06C42.14 113.47 43.2 119.96 42.26 122.14C41.33 124.32 39.15 123.61 36.37 122.14C33.59 120.68 28.13 116.32 25.59 113.38C23.05 110.43 20.24 106.86 21.13 104.46Z" fill="#636363"/>
<ellipse cx="32.77" cy="104.75" rx="6.04" ry="5.46" fill="#333333" transform="rotate(25 32.77 104.75)"/></g>
<ellipse cx="84.81" cy="106.91" rx="5.75" ry="2.01" fill="#a1a1a1" transform="rotate(20 84.81 106.91)"/>
<ellipse cx="47.44" cy="85.92" rx="7.47" ry="1.44" fill="#5e5e5e" transform="rotate(-4 47.44 85.92)"/>
<ellipse cx="51.03" cy="113.66" rx="2.01" ry="4.31" fill="#5e5e5e"/>
<ellipse cx="47.44" cy="122.86" rx="2.3" ry="1.44" fill="#5e5e5e"/>
<ellipse cx="60.37" cy="92.1" rx="3.16" ry="1.72" fill="#5e5e5e"/>
<ellipse cx="42.69" cy="99" rx="1.01" ry="2.88" fill="#474747" transform="rotate(10 42.69 99)"/>
</g></g>
<path d="M4.46 122.14C3.28 120.99 2.85 118.89 2.73 117.26C2.61 115.63 3.21 114.33 3.74 112.37C4.26 110.4 5.29 107.43 5.89 105.47C6.49 103.5 6.35 102.21 7.33 100.58C8.31 98.95 10.06 97.18 11.79 95.69C13.51 94.21 15.55 92.91 17.68 91.67C19.81 90.42 22.11 89.27 24.58 88.22C27.05 87.16 29.88 86.21 32.49 85.34C35.1 84.48 37.47 83.62 40.25 83.04C43.03 82.47 45.88 82.16 49.16 81.89C52.44 81.63 57.84 81.44 59.94 81.46C62.05 81.49 60.35 81.63 61.81 82.04C63.27 82.44 66.72 83.19 68.71 83.91C70.7 84.62 72.26 85.61 73.74 86.35C75.23 87.09 76 88.19 77.62 88.36C79.25 88.53 81.72 87.52 83.52 87.36C85.32 87.19 86.61 86.78 88.41 87.36C90.2 87.93 92.5 89.42 94.3 90.81C96.1 92.2 97.7 93.73 99.19 95.69C100.67 97.66 102.06 100.29 103.21 102.59C104.36 104.89 105.11 107.36 106.09 109.49C107.07 111.63 108.7 113.59 109.11 115.39C109.51 117.18 109.03 118.81 108.53 120.28C108.03 121.74 107.64 123.1 106.09 124.16C104.53 125.21 101.97 126.02 99.19 126.6C96.41 127.17 92.67 127.44 89.41 127.61C86.15 127.77 82.92 127.68 79.64 127.61C76.36 127.53 72.19 127.58 69.72 127.17C67.25 126.77 66.29 125.91 64.83 125.16C63.37 124.42 62.58 122.93 60.95 122.72C59.32 122.5 57.02 123.39 55.06 123.87C53.09 124.35 51.77 125.26 49.16 125.59C46.55 125.93 42.67 125.88 39.39 125.88C36.11 125.88 32.75 125.71 29.47 125.59C26.19 125.47 22.98 125.4 19.69 125.16C16.41 124.92 12.31 124.66 9.77 124.16C7.24 123.65 5.63 123.29 4.46 122.14Z" fill="none" stroke="#ece21c" stroke-width="2" stroke-dasharray="4.6 1.7" stroke-linecap="butt"/>
<g clip-path="url(#c2)"><g filter="url(#hm)">
<g filter="url(#ib12)"><rect x="-8" y="126" width="131" height="74" fill="#333333"/>
<path d="M14.37 163.47L21.56 152.69L37.66 146.36L57.5 143.78L69 144.64L76.91 150.1" fill="none" stroke="#6e6e6e" stroke-width="8.34" stroke-linecap="round" stroke-linejoin="round"/>
<ellipse cx="46.72" cy="147.51" rx="7.19" ry="3.16" fill="#dedede" transform="rotate(-10 46.72 147.51)"/>
<path d="M16.53 157C17.01 156.64 19.89 160.23 21.56 160.59C23.24 160.95 26.11 158.44 26.59 159.16C27.07 159.88 24.32 162.99 24.44 164.91C24.56 166.82 27.79 170.18 27.31 170.66C26.83 171.14 23.48 168.5 21.56 167.78C19.65 167.06 16.29 167.18 15.81 166.34C15.33 165.51 18.57 164.31 18.69 162.75C18.81 161.19 16.05 157.36 16.53 157Z" fill="#f5f5f5"/>
<ellipse cx="13.66" cy="164.91" rx="2.59" ry="5.75" fill="#2b2b2b" transform="rotate(-20 13.66 164.91)"/>
<path d="M76.91 151.54C79.37 149.43 84.67 149.81 87.4 150.1C90.13 150.39 91.64 151.92 93.29 153.26C94.95 154.6 96.1 156.21 97.32 158.15C98.54 160.09 99.79 162.82 100.62 164.91C101.46 166.99 101.58 168.98 102.35 170.66C103.12 172.33 104.51 173.53 105.22 174.97C105.94 176.41 107.43 178.16 106.66 179.28C105.9 180.41 104.99 181.17 100.62 181.72C96.26 182.28 84.81 183.35 80.5 182.59C76.19 181.82 76.07 180.43 74.75 177.12C73.43 173.82 72.23 167.01 72.59 162.75C72.95 158.49 74.44 153.65 76.91 151.54Z" fill="#131313"/>
<ellipse cx="92" cy="167.06" rx="7.19" ry="5.75" fill="#212121"/>
<ellipse cx="38.81" cy="168.5" rx="11.5" ry="11.5" fill="#2b2b2b"/>
<ellipse cx="57.5" cy="163.47" rx="10.06" ry="10.06" fill="#262626"/>
<ellipse cx="57.5" cy="157" rx="6.47" ry="3.16" fill="#545454"/>
<ellipse cx="43.12" cy="155.56" rx="4.31" ry="3.16" fill="#474747"/></g>
<path d="M26.59 152.97L35.94 150.1L43.12 148.95" fill="none" stroke="#cccccc" stroke-width="2.88" stroke-linecap="round" stroke-linejoin="round"/>
<path d="M60.37 143.78L72.59 146.07" fill="none" stroke="#dedede" stroke-width="3.16" stroke-linecap="round" stroke-linejoin="round"/>
<ellipse cx="24.72" cy="171.66" rx="2.16" ry="5.75" fill="#a1a1a1" transform="rotate(-10 24.72 171.66)"/>
<ellipse cx="54.62" cy="163.76" rx="2.59" ry="1.72" fill="#cccccc"/>
<path d="M48.16 154.12L49.59 167.06L57.5 175.69L67.56 181.44" fill="none" stroke="#696969" stroke-width="1.58" stroke-linecap="round" stroke-linejoin="round"/>
<ellipse cx="63.25" cy="179.71" rx="4.89" ry="2.16" fill="#f5f5f5" transform="rotate(25 63.25 179.71)"/>
<ellipse cx="56.78" cy="177.12" rx="2.3" ry="1.44" fill="#dedede"/>
<path d="M24.44 177.84L31.62 183.16L57.5 183.74L71.88 183.45" fill="none" stroke="#7d7d7d" stroke-width="1.87" stroke-linecap="round" stroke-linejoin="round"/>
<path d="M76.19 182.88L92 182.3L106.37 180.86" fill="none" stroke="#b8b8b8" stroke-width="1.29" stroke-linecap="round" stroke-linejoin="round"/>
<path d="M8.62 164.91L12.94 171.66L21.56 179.71" fill="none" stroke="#666666" stroke-width="2.01" stroke-linecap="round" stroke-linejoin="round"/>
</g></g>
<path d="M5.89 163.47C5.73 161.74 6.35 160.64 7.33 159.01C8.31 157.38 10.13 155.39 11.79 153.69C13.44 151.99 15.29 150.29 17.25 148.81C19.21 147.32 21.2 145.76 23.57 144.78C25.95 143.8 28.53 143.56 31.48 142.91C34.43 142.27 37.97 141.38 41.26 140.9C44.54 140.42 48.06 140.21 51.17 140.04C54.29 139.87 58 139.89 59.94 139.89C61.88 139.89 61.19 139.7 62.82 140.04C64.45 140.37 67.75 141.12 69.72 141.91C71.68 142.7 73.22 143.63 74.61 144.78C76 145.93 76.91 148.06 78.06 148.81C79.21 149.55 79.95 149.17 81.51 149.24C83.06 149.31 85.44 148.66 87.4 149.24C89.36 149.81 91.64 151.3 93.29 152.69C94.95 154.08 96.07 155.61 97.32 157.57C98.56 159.54 99.95 162.34 100.77 164.47C101.58 166.61 101.49 168.74 102.21 170.37C102.92 172 104.17 172.93 105.08 174.25C105.99 175.57 107.33 177.03 107.67 178.28C108 179.52 108.17 180.98 107.09 181.72C106.02 182.47 103.64 182.49 101.2 182.73C98.76 182.97 95.55 183.02 92.43 183.16C89.32 183.31 85.79 183.35 82.51 183.59C79.23 183.83 76.02 184.43 72.74 184.6C69.46 184.77 65.77 184.6 62.82 184.6C59.87 184.6 57.67 184.6 55.06 184.6C52.44 184.6 50.1 184.6 47.15 184.6C44.2 184.6 40.49 184.67 37.38 184.6C34.26 184.53 31.1 184.91 28.46 184.17C25.83 183.43 23.84 181.63 21.56 180.14C19.29 178.66 17.01 177.05 14.81 175.26C12.6 173.46 9.82 171.33 8.34 169.36C6.85 167.4 6.06 165.19 5.89 163.47Z" fill="none" stroke="#ece21c" stroke-width="2" stroke-dasharray="4.6 1.7" stroke-linecap="butt"/>
<g clip-path="url(#c3)"><g filter="url(#hd)">
<g filter="url(#ib08)"><rect x="351" y="10" width="131" height="74" fill="#000000"/>
<ellipse cx="402.12" cy="58.25" rx="34.5" ry="8.62" fill="#020202"/>
<ellipse cx="456.75" cy="51.06" rx="8.62" ry="11.5" fill="#030303"/></g>
<ellipse cx="430.88" cy="66.3" rx="5.03" ry="1.01" fill="#474747"/>
<ellipse cx="466.38" cy="54.66" rx="0.86" ry="4.31" fill="#2b2b2b"/>
</g></g>
<path d="M363.46 62.42C363.96 61.27 367.29 59.09 368.92 57.53C370.55 55.97 372.42 54.63 373.23 53.07C374.05 51.52 373.3 49.89 373.81 48.19C374.31 46.49 374.45 45 376.25 42.87C378.05 40.74 381.88 37.29 384.59 35.39C387.29 33.5 390.03 32.66 392.49 31.51C394.96 30.36 396.95 29.28 399.39 28.49C401.84 27.7 404.54 27.25 407.16 26.77C409.77 26.29 412.12 25.86 415.06 25.62C418.01 25.38 421.89 25.31 424.84 25.33C427.78 25.36 430.61 25.38 432.74 25.76C434.88 26.15 436.17 26.84 437.63 27.63C439.09 28.42 440.36 29.45 441.51 30.51C442.66 31.56 443.72 32.88 444.53 33.96C445.35 35.03 445.66 36.33 446.4 36.97C447.14 37.62 447.67 37.69 448.99 37.84C450.31 37.98 452.61 37.5 454.31 37.84C456.01 38.17 457.54 38.94 459.19 39.85C460.85 40.76 462.81 41.91 464.23 43.3C465.64 44.69 466.86 46.56 467.68 48.19C468.49 49.82 468.97 51.11 469.11 53.07C469.26 55.04 468.71 58.15 468.54 59.97C468.37 61.8 468.01 62.51 468.11 64C468.2 65.49 469.45 68 469.11 68.89C468.78 69.77 467.41 69.49 466.09 69.32C464.78 69.15 463.17 68.36 461.21 67.88C459.24 67.4 456.61 66.68 454.31 66.44C452.01 66.2 449.71 66.2 447.41 66.44C445.11 66.68 442.64 67.4 440.51 67.88C438.37 68.36 437.22 69.03 434.61 69.32C432 69.61 428.1 69.65 424.84 69.61C421.58 69.56 418.49 69.13 415.06 69.03C411.64 68.94 407.73 69.15 404.28 69.03C400.83 68.91 397.64 68.58 394.36 68.31C391.08 68.05 387.85 67.88 384.59 67.45C381.33 67.02 377.93 66.23 374.81 65.72C371.7 65.22 367.79 64.98 365.9 64.43C364.01 63.88 362.95 63.57 363.46 62.42Z" fill="none" stroke="#ece21c" stroke-width="1.75" stroke-dasharray="4.6 1.7" stroke-linecap="butt"/>
<g clip-path="url(#c4)"><g filter="url(#hd)">
<g filter="url(#ib08)"><rect x="351" y="68" width="131" height="74" fill="#000000"/>
<ellipse cx="433.75" cy="109.06" rx="31.62" ry="14.37" fill="#020202"/>
<ellipse cx="394.36" cy="112.66" rx="5.75" ry="13.22" fill="#4a4a4a" transform="rotate(-30 394.36 112.66)"/>
<ellipse cx="393.5" cy="111.22" rx="2.59" ry="8.62" fill="#666666" transform="rotate(-30 393.5 111.22)"/></g>
</g></g>
<path d="M364.61 122.72C363.43 121.57 363 119.46 362.88 117.83C362.76 116.2 363.36 114.91 363.89 112.94C364.41 110.98 365.44 108.01 366.04 106.04C366.64 104.08 366.5 102.79 367.48 101.16C368.46 99.53 370.21 97.75 371.94 96.27C373.66 94.78 375.7 93.49 377.83 92.24C379.96 91 382.26 89.85 384.73 88.79C387.2 87.74 390.03 86.78 392.64 85.92C395.25 85.06 397.62 84.19 400.4 83.62C403.18 83.04 406.03 82.73 409.31 82.47C412.59 82.21 417.99 82.01 420.09 82.04C422.2 82.06 420.5 82.21 421.96 82.61C423.42 83.02 426.87 83.76 428.86 84.48C430.85 85.2 432.41 86.18 433.89 86.92C435.38 87.67 436.15 88.77 437.77 88.94C439.4 89.11 441.87 88.1 443.67 87.93C445.47 87.76 446.76 87.36 448.56 87.93C450.35 88.51 452.65 89.99 454.45 91.38C456.25 92.77 457.85 94.3 459.34 96.27C460.82 98.23 462.21 100.87 463.36 103.17C464.51 105.47 465.26 107.94 466.24 110.07C467.22 112.2 468.85 114.17 469.26 115.96C469.66 117.76 469.18 119.39 468.68 120.85C468.18 122.31 467.79 123.68 466.24 124.73C464.68 125.79 462.12 126.6 459.34 127.17C456.56 127.75 452.82 128.01 449.56 128.18C446.3 128.35 443.07 128.25 439.79 128.18C436.51 128.11 432.34 128.16 429.87 127.75C427.4 127.34 426.44 126.48 424.98 125.74C423.52 124.99 422.73 123.51 421.1 123.29C419.47 123.08 417.17 123.96 415.21 124.44C413.24 124.92 411.92 125.83 409.31 126.17C406.7 126.5 402.82 126.46 399.54 126.46C396.26 126.46 392.9 126.29 389.62 126.17C386.34 126.05 383.13 125.98 379.84 125.74C376.56 125.5 372.46 125.23 369.93 124.73C367.39 124.23 365.78 123.87 364.61 122.72Z" fill="none" stroke="#ece21c" stroke-width="1.75" stroke-dasharray="4.6 1.7" stroke-linecap="butt"/>
<g clip-path="url(#c5)"><g filter="url(#hs)">
<g filter="url(#ib06)"><rect x="351" y="126" width="131" height="74" fill="#000000"/>
<path d="M402.12 155.56C403.8 155.56 404.76 162.87 407.88 167.06C410.99 171.26 419.85 178.08 420.81 180.72C421.77 183.35 418.66 182.64 413.62 182.88C408.59 183.11 393.26 184.79 390.62 182.16C387.99 179.52 395.9 171.49 397.81 167.06C399.73 162.63 400.45 155.56 402.12 155.56Z" fill="#242424"/>
<ellipse cx="403.27" cy="164.91" rx="2.88" ry="7.19" fill="#424242" transform="rotate(-10 403.27 164.91)"/>
<ellipse cx="380.56" cy="175.69" rx="8.62" ry="3.59" fill="#131313" transform="rotate(30 380.56 175.69)"/></g>
<ellipse cx="433.03" cy="180.72" rx="1.72" ry="2.01" fill="#474747"/>
</g></g>
<path d="M365.32 163.9C365.16 162.18 365.78 161.07 366.76 159.44C367.74 157.81 369.57 155.83 371.22 154.12C372.87 152.42 374.72 150.72 376.68 149.24C378.65 147.75 380.63 146.19 383.01 145.21C385.38 144.23 387.97 143.99 390.91 143.34C393.86 142.7 397.41 141.81 400.69 141.33C403.97 140.85 407.49 140.64 410.61 140.47C413.72 140.3 417.43 140.32 419.38 140.32C421.32 140.32 420.62 140.13 422.25 140.47C423.88 140.8 427.19 141.55 429.15 142.34C431.11 143.13 432.65 144.06 434.04 145.21C435.43 146.36 436.34 148.49 437.49 149.24C438.64 149.98 439.38 149.6 440.94 149.67C442.49 149.74 444.87 149.09 446.83 149.67C448.8 150.24 451.07 151.73 452.73 153.12C454.38 154.51 455.5 156.04 456.75 158.01C458 159.97 459.39 162.77 460.2 164.91C461.01 167.04 460.92 169.17 461.64 170.8C462.36 172.43 463.6 173.36 464.51 174.68C465.42 176 466.76 177.46 467.1 178.71C467.44 179.95 467.6 181.41 466.52 182.16C465.45 182.9 463.08 182.92 460.63 183.16C458.19 183.4 454.98 183.45 451.86 183.59C448.75 183.74 445.23 183.79 441.94 184.03C438.66 184.26 435.45 184.86 432.17 185.03C428.89 185.2 425.2 185.03 422.25 185.03C419.3 185.03 417.1 185.03 414.49 185.03C411.88 185.03 409.53 185.03 406.58 185.03C403.63 185.03 399.92 185.1 396.81 185.03C393.69 184.96 390.53 185.34 387.89 184.6C385.26 183.86 383.27 182.06 380.99 180.57C378.72 179.09 376.44 177.48 374.24 175.69C372.03 173.89 369.25 171.76 367.77 169.79C366.28 167.83 365.49 165.62 365.32 163.9Z" fill="none" stroke="#ece21c" stroke-width="1.75" stroke-dasharray="4.6 1.7" stroke-linecap="butt"/>
<g clip-path="url(#c6)"><g filter="url(#hn)">
<g filter="url(#ib10)"><rect x="-8" y="230" width="131" height="74" fill="#1c1c1c"/>
<path d="M40.25 254.53L57.5 249.21L74.75 249.79L81.94 255.97" fill="none" stroke="#6e6e6e" stroke-width="7.91" stroke-linecap="round" stroke-linejoin="round"/>
<ellipse cx="28.03" cy="261.72" rx="7.47" ry="5.75" fill="#dedede"/>
<ellipse cx="37.38" cy="267.47" rx="5.75" ry="5.75" fill="#737373"/>
<path d="M36.66 271.06C39.41 268.79 45.76 264.35 48.16 266.03C50.55 267.71 51.15 278.13 51.03 281.12C50.91 284.12 50.31 283.64 47.44 284C44.56 284.36 36.42 284 33.78 283.28C31.15 282.56 31.15 281.72 31.62 279.69C32.1 277.65 33.9 273.34 36.66 271.06Z" fill="#f5f5f5"/>
<path d="M48.16 264.59L54.62 257.41L64.69 255.54L71.16 261L74.03 266.75" fill="none" stroke="#f5f5f5" stroke-width="6.04" stroke-linecap="round" stroke-linejoin="round"/>
<ellipse cx="74.75" cy="253.81" rx="5.75" ry="4.02" fill="#b8b8b8"/>
<ellipse cx="62.1" cy="274.66" rx="12.07" ry="9.2" fill="#000000" transform="rotate(10 62.1 274.66)"/>
<path d="M74.75 262.44C77.86 258.6 83.85 260.04 87.69 259.56C91.52 259.08 94.76 258.72 97.75 259.56C100.74 260.4 103.86 262.44 105.66 264.59C107.45 266.75 108.17 269.27 108.53 272.5C108.89 275.73 111.05 281.96 107.81 284C104.58 286.04 94.64 284.48 89.12 284.72C83.61 284.96 78.1 285.8 74.75 285.44C71.4 285.08 69 286.4 69 282.56C69 278.73 71.64 266.27 74.75 262.44Z" fill="#060606"/>
<ellipse cx="17.25" cy="276.81" rx="10.06" ry="6.47" fill="#111111"/></g>
<path d="M47.44 252.38L61.81 250.22" fill="none" stroke="#b8b8b8" stroke-width="3.74" stroke-linecap="round" stroke-linejoin="round"/>
<ellipse cx="47.44" cy="285.73" rx="8.62" ry="1.29" fill="#5e5e5e"/>
<path d="M4.46 282.13C4.96 280.98 8.29 278.8 9.92 277.24C11.55 275.69 13.42 274.34 14.23 272.79C15.05 271.23 14.3 269.6 14.81 267.9C15.31 266.2 15.45 264.71 17.25 262.58C19.05 260.45 22.88 257 25.59 255.11C28.29 253.21 31.03 252.38 33.49 251.22C35.96 250.07 37.95 249 40.39 248.21C42.84 247.42 45.54 246.96 48.16 246.48C50.77 246 53.12 245.57 56.06 245.33C59.01 245.09 62.89 245.02 65.84 245.04C68.78 245.07 71.61 245.09 73.74 245.47C75.88 245.86 77.17 246.55 78.63 247.34C80.09 248.13 81.36 249.16 82.51 250.22C83.66 251.27 84.72 252.59 85.53 253.67C86.35 254.75 86.66 256.04 87.4 256.69C88.14 257.33 88.67 257.41 89.99 257.55C91.31 257.69 93.61 257.21 95.31 257.55C97.01 257.89 98.54 258.65 100.19 259.56C101.85 260.47 103.81 261.62 105.22 263.01C106.64 264.4 107.86 266.27 108.67 267.9C109.49 269.53 109.97 270.82 110.11 272.79C110.26 274.75 109.71 277.87 109.54 279.69C109.37 281.51 109.01 282.23 109.11 283.71C109.2 285.2 110.45 287.71 110.11 288.6C109.78 289.49 108.41 289.2 107.09 289.03C105.78 288.86 104.17 288.07 102.21 287.59C100.24 287.11 97.61 286.4 95.31 286.16C93.01 285.92 90.71 285.92 88.41 286.16C86.11 286.4 83.64 287.11 81.51 287.59C79.37 288.07 78.22 288.74 75.61 289.03C73 289.32 69.1 289.37 65.84 289.32C62.58 289.27 59.49 288.84 56.06 288.74C52.64 288.65 48.73 288.86 45.28 288.74C41.83 288.62 38.64 288.29 35.36 288.02C32.08 287.76 28.85 287.59 25.59 287.16C22.33 286.73 18.93 285.94 15.81 285.44C12.7 284.93 8.79 284.69 6.9 284.14C5.01 283.59 3.95 283.28 4.46 282.13Z" fill="none" stroke="#5e5e5e" stroke-width="2"/>
</g></g>
<path d="M4.46 282.13C4.96 280.98 8.29 278.8 9.92 277.24C11.55 275.69 13.42 274.34 14.23 272.79C15.05 271.23 14.3 269.6 14.81 267.9C15.31 266.2 15.45 264.71 17.25 262.58C19.05 260.45 22.88 257 25.59 255.11C28.29 253.21 31.03 252.38 33.49 251.22C35.96 250.07 37.95 249 40.39 248.21C42.84 247.42 45.54 246.96 48.16 246.48C50.77 246 53.12 245.57 56.06 245.33C59.01 245.09 62.89 245.02 65.84 245.04C68.78 245.07 71.61 245.09 73.74 245.47C75.88 245.86 77.17 246.55 78.63 247.34C80.09 248.13 81.36 249.16 82.51 250.22C83.66 251.27 84.72 252.59 85.53 253.67C86.35 254.75 86.66 256.04 87.4 256.69C88.14 257.33 88.67 257.41 89.99 257.55C91.31 257.69 93.61 257.21 95.31 257.55C97.01 257.89 98.54 258.65 100.19 259.56C101.85 260.47 103.81 261.62 105.22 263.01C106.64 264.4 107.86 266.27 108.67 267.9C109.49 269.53 109.97 270.82 110.11 272.79C110.26 274.75 109.71 277.87 109.54 279.69C109.37 281.51 109.01 282.23 109.11 283.71C109.2 285.2 110.45 287.71 110.11 288.6C109.78 289.49 108.41 289.2 107.09 289.03C105.78 288.86 104.17 288.07 102.21 287.59C100.24 287.11 97.61 286.4 95.31 286.16C93.01 285.92 90.71 285.92 88.41 286.16C86.11 286.4 83.64 287.11 81.51 287.59C79.37 288.07 78.22 288.74 75.61 289.03C73 289.32 69.1 289.37 65.84 289.32C62.58 289.27 59.49 288.84 56.06 288.74C52.64 288.65 48.73 288.86 45.28 288.74C41.83 288.62 38.64 288.29 35.36 288.02C32.08 287.76 28.85 287.59 25.59 287.16C22.33 286.73 18.93 285.94 15.81 285.44C12.7 284.93 8.79 284.69 6.9 284.14C5.01 283.59 3.95 283.28 4.46 282.13Z" fill="none" stroke="#ece21c" stroke-width="2" stroke-dasharray="4.6 1.7" stroke-linecap="butt"/>
<g clip-path="url(#c7)"><g filter="url(#hs)">
<g filter="url(#ib06)"><rect x="-8" y="288" width="131" height="74" fill="#000000"/>
<ellipse cx="35.94" cy="336.97" rx="5.03" ry="3.16" fill="#0b0b0b"/></g>
<path d="M4.31 340.27L14.37 342.86L28.75 343.87L43.12 344.3L52.47 343.44" fill="none" stroke="#474747" stroke-width="1.01" stroke-linecap="round" stroke-linejoin="round"/>
<ellipse cx="8.62" cy="340.85" rx="2.59" ry="1.15" fill="#b8b8b8" transform="rotate(15 8.62 340.85)"/>
<ellipse cx="46" cy="342.29" rx="2.3" ry="1.15" fill="#a1a1a1"/>
<ellipse cx="101.34" cy="324.75" rx="1.15" ry="2.88" fill="#1a1a1a"/>
</g></g>
<path d="M5.46 342.57C4.29 341.43 3.86 339.32 3.74 337.69C3.62 336.06 4.22 334.76 4.74 332.8C5.27 330.84 6.3 327.86 6.9 325.9C7.5 323.94 7.36 322.64 8.34 321.01C9.32 319.38 11.07 317.61 12.79 316.12C14.52 314.64 16.56 313.35 18.69 312.1C20.82 310.85 23.12 309.7 25.59 308.65C28.06 307.6 30.88 306.64 33.49 305.77C36.11 304.91 38.48 304.05 41.26 303.48C44.04 302.9 46.89 302.59 50.17 302.32C53.45 302.06 58.84 301.87 60.95 301.89C63.06 301.92 61.36 302.06 62.82 302.47C64.28 302.88 67.73 303.62 69.72 304.34C71.71 305.06 73.26 306.04 74.75 306.78C76.24 307.52 77 308.63 78.63 308.79C80.26 308.96 82.73 307.96 84.52 307.79C86.32 307.62 87.62 307.21 89.41 307.79C91.21 308.36 93.51 309.85 95.31 311.24C97.1 312.63 98.71 314.16 100.19 316.12C101.68 318.09 103.07 320.72 104.22 323.02C105.37 325.32 106.11 327.79 107.09 329.93C108.08 332.06 109.71 334.02 110.11 335.82C110.52 337.62 110.04 339.24 109.54 340.71C109.03 342.17 108.65 343.53 107.09 344.59C105.54 345.64 102.97 346.46 100.19 347.03C97.41 347.61 93.68 347.87 90.42 348.04C87.16 348.21 83.93 348.11 80.64 348.04C77.36 347.97 73.19 348.01 70.72 347.61C68.26 347.2 67.3 346.34 65.84 345.59C64.38 344.85 63.59 343.37 61.96 343.15C60.33 342.93 58.03 343.82 56.06 344.3C54.1 344.78 52.78 345.69 50.17 346.02C47.56 346.36 43.68 346.31 40.39 346.31C37.11 346.31 33.76 346.14 30.47 346.02C27.19 345.91 23.98 345.83 20.7 345.59C17.42 345.35 13.32 345.09 10.78 344.59C8.24 344.08 6.64 343.72 5.46 342.57Z" fill="none" stroke="#ece21c" stroke-width="1.75" stroke-dasharray="4.6 1.7" stroke-linecap="butt"/>
<g clip-path="url(#c8)"><g filter="url(#hs)">
<g filter="url(#ib06)"><rect x="-8" y="346" width="131" height="74" fill="#000000"/>
<path d="M40.25 379.16C41.93 379.16 42.89 386.1 46 389.94C49.11 393.77 59.42 399.88 58.94 402.16C58.46 404.43 48.52 403.47 43.12 403.59C37.73 403.71 27.79 405.15 26.59 402.88C25.4 400.6 33.66 393.89 35.94 389.94C38.21 385.98 38.57 379.16 40.25 379.16Z" fill="#262626"/>
<ellipse cx="41.69" cy="398.56" rx="11.5" ry="4.6" fill="#7a7a7a" transform="rotate(8 41.69 398.56)"/>
<ellipse cx="48.16" cy="398.85" rx="5.46" ry="3.16" fill="#ffffff" transform="rotate(15 48.16 398.85)"/>
<ellipse cx="32.34" cy="399.71" rx="3.74" ry="2.59" fill="#b8b8b8"/></g>
<ellipse cx="72.59" cy="400.72" rx="1.44" ry="1.72" fill="#a1a1a1"/>
<ellipse cx="68.71" cy="381.31" rx="0.5" ry="1.29" fill="#474747" transform="rotate(10 68.71 381.31)"/>
<ellipse cx="47.87" cy="375.99" rx="0.43" ry="1.15" fill="#474747" transform="rotate(-20 47.87 375.99)"/>
</g></g>
<path d="M6.32 383.9C6.16 382.17 6.78 381.07 7.76 379.44C8.74 377.81 10.57 375.83 12.22 374.12C13.87 372.42 15.72 370.72 17.68 369.24C19.65 367.75 21.63 366.19 24.01 365.21C26.38 364.23 28.97 363.99 31.91 363.34C34.86 362.7 38.41 361.81 41.69 361.33C44.97 360.85 48.49 360.64 51.61 360.47C54.72 360.3 58.43 360.32 60.37 360.32C62.32 360.32 61.62 360.13 63.25 360.47C64.88 360.8 68.19 361.55 70.15 362.34C72.11 363.13 73.65 364.06 75.04 365.21C76.43 366.36 77.34 368.49 78.49 369.24C79.64 369.98 80.38 369.6 81.94 369.67C83.49 369.74 85.87 369.09 87.83 369.67C89.8 370.24 92.07 371.73 93.72 373.12C95.38 374.51 96.5 376.04 97.75 378.01C99 379.97 100.39 382.77 101.2 384.91C102.01 387.04 101.92 389.17 102.64 390.8C103.36 392.43 104.6 393.36 105.51 394.68C106.42 396 107.76 397.46 108.1 398.71C108.44 399.95 108.6 401.41 107.52 402.16C106.45 402.9 104.07 402.92 101.63 403.16C99.19 403.4 95.98 403.45 92.86 403.59C89.75 403.74 86.23 403.79 82.94 404.02C79.66 404.26 76.45 404.86 73.17 405.03C69.89 405.2 66.2 405.03 63.25 405.03C60.3 405.03 58.1 405.03 55.49 405.03C52.88 405.03 50.53 405.03 47.58 405.03C44.63 405.03 40.92 405.1 37.81 405.03C34.69 404.96 31.53 405.34 28.89 404.6C26.26 403.86 24.27 402.06 21.99 400.57C19.72 399.09 17.44 397.48 15.24 395.69C13.03 393.89 10.25 391.76 8.77 389.79C7.28 387.83 6.49 385.62 6.32 383.9Z" fill="none" stroke="#ece21c" stroke-width="1.75" stroke-dasharray="4.6 1.7" stroke-linecap="butt"/>
<g clip-path="url(#c9)"><g filter="url(#hl)">
<g filter="url(#ib16)"><rect x="-8" y="408" width="131" height="74" fill="#5c5c5c"/>
<path d="M17.97 441.16L28.75 432.96L43.12 427.79L60.37 425.2L69.72 426.35" fill="none" stroke="#1a1a1a" stroke-width="6.61" stroke-linecap="round" stroke-linejoin="round"/>
<ellipse cx="60.37" cy="436.12" rx="7.91" ry="6.04" fill="#2b2b2b"/>
<ellipse cx="39.53" cy="449.78" rx="8.62" ry="9.34" fill="#1f1f1f"/>
<path d="M40.97 452.66L48.87 457.69L56.78 460.85" fill="none" stroke="#030303" stroke-width="5.17" stroke-linecap="round" stroke-linejoin="round"/>
<ellipse cx="10.06" cy="457.4" rx="5.17" ry="2.59" fill="#969696" transform="rotate(-30 10.06 457.4)"/>
<ellipse cx="53.91" cy="449.06" rx="4.31" ry="6.9" fill="#dedede" transform="rotate(-15 53.91 449.06)"/>
<ellipse cx="28.03" cy="451.94" rx="4.02" ry="6.9" fill="#bfbfbf" transform="rotate(-10 28.03 451.94)"/>
<ellipse cx="17.25" cy="453.66" rx="4.6" ry="3.59" fill="#8f8f8f"/>
<ellipse cx="80.5" cy="444.75" rx="8.62" ry="7.19" fill="#7a7a7a"/>
<ellipse cx="92.72" cy="445.47" rx="6.47" ry="6.04" fill="#969696"/>
<ellipse cx="92.72" cy="457.4" rx="6.04" ry="4.02" fill="#303030"/>
<ellipse cx="104.22" cy="452.66" rx="3.59" ry="7.19" fill="#7d7d7d"/>
<ellipse cx="69" cy="457.69" rx="8.62" ry="4.31" fill="#474747"/>
<ellipse cx="74.75" cy="433.25" rx="5.75" ry="4.31" fill="#737373"/></g>
<path d="M66.84 444.03L73.31 446.91L79.06 445.18" fill="none" stroke="#dedede" stroke-width="2.59" stroke-linecap="round" stroke-linejoin="round"/>
<path d="M71.88 424.91L80.5 429.94L86.25 437.13L94.87 437.85L104.94 442.16" fill="none" stroke="#dedede" stroke-width="2.44" stroke-linecap="round" stroke-linejoin="round"/>
<path d="M4.46 458.26C4.96 457.11 8.29 454.93 9.92 453.38C11.55 451.82 13.42 450.48 14.23 448.92C15.05 447.36 14.3 445.73 14.81 444.03C15.31 442.33 15.45 440.84 17.25 438.71C19.05 436.58 22.88 433.13 25.59 431.24C28.29 429.34 31.03 428.51 33.49 427.36C35.96 426.21 37.95 425.13 40.39 424.34C42.84 423.55 45.54 423.09 48.16 422.61C50.77 422.13 53.12 421.7 56.06 421.46C59.01 421.22 62.89 421.15 65.84 421.18C68.78 421.2 71.61 421.22 73.74 421.61C75.88 421.99 77.17 422.68 78.63 423.48C80.09 424.27 81.36 425.3 82.51 426.35C83.66 427.4 84.72 428.72 85.53 429.8C86.35 430.88 86.66 432.17 87.4 432.82C88.14 433.47 88.67 433.54 89.99 433.68C91.31 433.82 93.61 433.35 95.31 433.68C97.01 434.02 98.54 434.78 100.19 435.69C101.85 436.6 103.81 437.75 105.22 439.14C106.64 440.53 107.86 442.4 108.67 444.03C109.49 445.66 109.97 446.95 110.11 448.92C110.26 450.88 109.71 454 109.54 455.82C109.37 457.64 109.01 458.36 109.11 459.84C109.2 461.33 110.45 463.84 110.11 464.73C109.78 465.62 108.41 465.33 107.09 465.16C105.78 464.99 104.17 464.2 102.21 463.73C100.24 463.25 97.61 462.53 95.31 462.29C93.01 462.05 90.71 462.05 88.41 462.29C86.11 462.53 83.64 463.25 81.51 463.73C79.37 464.2 78.22 464.88 75.61 465.16C73 465.45 69.1 465.5 65.84 465.45C62.58 465.4 59.49 464.97 56.06 464.88C52.64 464.78 48.73 464.99 45.28 464.88C41.83 464.76 38.64 464.42 35.36 464.16C32.08 463.89 28.85 463.72 25.59 463.29C22.33 462.86 18.93 462.07 15.81 461.57C12.7 461.07 8.79 460.83 6.9 460.27C5.01 459.72 3.95 459.41 4.46 458.26Z" fill="none" stroke="#474747" stroke-width="2.4"/>
</g></g>
<path d="M4.46 458.26C4.96 457.11 8.29 454.93 9.92 453.38C11.55 451.82 13.42 450.48 14.23 448.92C15.05 447.36 14.3 445.73 14.81 444.03C15.31 442.33 15.45 440.84 17.25 438.71C19.05 436.58 22.88 433.13 25.59 431.24C28.29 429.34 31.03 428.51 33.49 427.36C35.96 426.21 37.95 425.13 40.39 424.34C42.84 423.55 45.54 423.09 48.16 422.61C50.77 422.13 53.12 421.7 56.06 421.46C59.01 421.22 62.89 421.15 65.84 421.18C68.78 421.2 71.61 421.22 73.74 421.61C75.88 421.99 77.17 422.68 78.63 423.48C80.09 424.27 81.36 425.3 82.51 426.35C83.66 427.4 84.72 428.72 85.53 429.8C86.35 430.88 86.66 432.17 87.4 432.82C88.14 433.47 88.67 433.54 89.99 433.68C91.31 433.82 93.61 433.35 95.31 433.68C97.01 434.02 98.54 434.78 100.19 435.69C101.85 436.6 103.81 437.75 105.22 439.14C106.64 440.53 107.86 442.4 108.67 444.03C109.49 445.66 109.97 446.95 110.11 448.92C110.26 450.88 109.71 454 109.54 455.82C109.37 457.64 109.01 458.36 109.11 459.84C109.2 461.33 110.45 463.84 110.11 464.73C109.78 465.62 108.41 465.33 107.09 465.16C105.78 464.99 104.17 464.2 102.21 463.73C100.24 463.25 97.61 462.53 95.31 462.29C93.01 462.05 90.71 462.05 88.41 462.29C86.11 462.53 83.64 463.25 81.51 463.73C79.37 464.2 78.22 464.88 75.61 465.16C73 465.45 69.1 465.5 65.84 465.45C62.58 465.4 59.49 464.97 56.06 464.88C52.64 464.78 48.73 464.99 45.28 464.88C41.83 464.76 38.64 464.42 35.36 464.16C32.08 463.89 28.85 463.72 25.59 463.29C22.33 462.86 18.93 462.07 15.81 461.57C12.7 461.07 8.79 460.83 6.9 460.27C5.01 459.72 3.95 459.41 4.46 458.26Z" fill="none" stroke="#ece21c" stroke-width="2" stroke-dasharray="4.6 1.7" stroke-linecap="butt"/>
<g clip-path="url(#c10)"><g filter="url(#hl)">
<g filter="url(#ib16)"><rect x="-8" y="466" width="131" height="74" fill="#5e5e5e"/>
<path d="M10.06 502.03L18.69 492.98L33.06 487.23L50.31 483.49L60.37 484.06" fill="none" stroke="#2e2e2e" stroke-width="6.9" stroke-linecap="round" stroke-linejoin="round"/>
<ellipse cx="46.72" cy="500.59" rx="5.03" ry="12.22" fill="#737373" transform="rotate(10 46.72 500.59)"/>
<path d="M23.72 500.59C25.52 498.32 30.91 495.32 33.78 495.56C36.66 495.8 39.05 498.32 40.97 502.03C42.89 505.74 45.52 514.25 45.28 517.84C45.04 521.44 41.93 523.47 39.53 523.59C37.14 523.71 33.66 520.96 30.91 518.56C28.15 516.17 24.2 512.21 23 509.22C21.8 506.22 21.92 502.87 23.72 500.59Z" fill="#000000"/>
<ellipse cx="52.04" cy="509.94" rx="3.45" ry="8.62" fill="#000000"/>
<ellipse cx="54.91" cy="494.12" rx="2.3" ry="8.62" fill="#262626" transform="rotate(5 54.91 494.12)"/>
<ellipse cx="20.12" cy="513.96" rx="12.65" ry="4.89" fill="#d4d4d4" transform="rotate(28 20.12 513.96)"/>
<ellipse cx="8.34" cy="511.38" rx="2.88" ry="7.19" fill="#8f8f8f"/>
<ellipse cx="73.31" cy="495.56" rx="5.03" ry="5.75" fill="#262626"/>
<ellipse cx="64.69" cy="508.5" rx="7.47" ry="7.47" fill="#8f8f8f"/>
<ellipse cx="92" cy="502.75" rx="15.09" ry="12.22" fill="#8a8a8a"/>
<ellipse cx="82.22" cy="502.03" rx="4.31" ry="6.04" fill="#b8b8b8" transform="rotate(30 82.22 502.03)"/>
<ellipse cx="100.91" cy="504.91" rx="3.45" ry="7.91" fill="#cccccc"/>
<ellipse cx="89.12" cy="494.84" rx="5.75" ry="4.31" fill="#8f8f8f"/>
<ellipse cx="83.38" cy="517.84" rx="17.25" ry="5.46" fill="#4f4f4f"/></g>
<ellipse cx="104.22" cy="501.31" rx="1.15" ry="5.75" fill="#f5f5f5" transform="rotate(-15 104.22 501.31)"/>
<ellipse cx="77.62" cy="487.66" rx="2.59" ry="1.44" fill="#dedede"/>
<path d="M4.74 520.58C3.57 519.43 3.14 517.32 3.02 515.69C2.9 514.06 3.5 512.76 4.02 510.8C4.55 508.84 5.58 505.86 6.18 503.9C6.78 501.94 6.64 500.64 7.62 499.01C8.6 497.38 10.35 495.61 12.07 494.12C13.8 492.64 15.84 491.35 17.97 490.1C20.1 488.85 22.4 487.7 24.87 486.65C27.34 485.6 30.16 484.64 32.77 483.77C35.39 482.91 37.76 482.05 40.54 481.48C43.32 480.9 46.17 480.59 49.45 480.32C52.73 480.06 58.12 479.87 60.23 479.89C62.34 479.92 60.64 480.06 62.1 480.47C63.56 480.88 67.01 481.62 69 482.34C70.99 483.06 72.55 484.04 74.03 484.78C75.52 485.52 76.28 486.63 77.91 486.79C79.54 486.96 82.01 485.96 83.81 485.79C85.6 485.62 86.9 485.21 88.69 485.79C90.49 486.36 92.79 487.85 94.59 489.24C96.38 490.63 97.99 492.16 99.47 494.12C100.96 496.09 102.35 498.72 103.5 501.02C104.65 503.32 105.39 505.79 106.37 507.93C107.36 510.06 108.99 512.02 109.39 513.82C109.8 515.62 109.32 517.24 108.82 518.71C108.32 520.17 107.93 521.53 106.37 522.59C104.82 523.64 102.25 524.46 99.47 525.03C96.7 525.61 92.96 525.87 89.7 526.04C86.44 526.21 83.21 526.11 79.92 526.04C76.64 525.97 72.47 526.01 70.01 525.61C67.54 525.2 66.58 524.34 65.12 523.59C63.66 522.85 62.87 521.37 61.24 521.15C59.61 520.93 57.31 521.82 55.34 522.3C53.38 522.78 52.06 523.69 49.45 524.02C46.84 524.36 42.96 524.31 39.67 524.31C36.39 524.31 33.04 524.14 29.76 524.02C26.47 523.91 23.26 523.83 19.98 523.59C16.7 523.35 12.6 523.09 10.06 522.59C7.52 522.08 5.92 521.73 4.74 520.58Z" fill="none" stroke="#474747" stroke-width="2.4"/>
</g></g>
<path d="M4.74 520.58C3.57 519.43 3.14 517.32 3.02 515.69C2.9 514.06 3.5 512.76 4.02 510.8C4.55 508.84 5.58 505.86 6.18 503.9C6.78 501.94 6.64 500.64 7.62 499.01C8.6 497.38 10.35 495.61 12.07 494.12C13.8 492.64 15.84 491.35 17.97 490.1C20.1 488.85 22.4 487.7 24.87 486.65C27.34 485.6 30.16 484.64 32.77 483.77C35.39 482.91 37.76 482.05 40.54 481.48C43.32 480.9 46.17 480.59 49.45 480.32C52.73 480.06 58.12 479.87 60.23 479.89C62.34 479.92 60.64 480.06 62.1 480.47C63.56 480.88 67.01 481.62 69 482.34C70.99 483.06 72.55 484.04 74.03 484.78C75.52 485.52 76.28 486.63 77.91 486.79C79.54 486.96 82.01 485.96 83.81 485.79C85.6 485.62 86.9 485.21 88.69 485.79C90.49 486.36 92.79 487.85 94.59 489.24C96.38 490.63 97.99 492.16 99.47 494.12C100.96 496.09 102.35 498.72 103.5 501.02C104.65 503.32 105.39 505.79 106.37 507.93C107.36 510.06 108.99 512.02 109.39 513.82C109.8 515.62 109.32 517.24 108.82 518.71C108.32 520.17 107.93 521.53 106.37 522.59C104.82 523.64 102.25 524.46 99.47 525.03C96.7 525.61 92.96 525.87 89.7 526.04C86.44 526.21 83.21 526.11 79.92 526.04C76.64 525.97 72.47 526.01 70.01 525.61C67.54 525.2 66.58 524.34 65.12 523.59C63.66 522.85 62.87 521.37 61.24 521.15C59.61 520.93 57.31 521.82 55.34 522.3C53.38 522.78 52.06 523.69 49.45 524.02C46.84 524.36 42.96 524.31 39.67 524.31C36.39 524.31 33.04 524.14 29.76 524.02C26.47 523.91 23.26 523.83 19.98 523.59C16.7 523.35 12.6 523.09 10.06 522.59C7.52 522.08 5.92 521.73 4.74 520.58Z" fill="none" stroke="#ece21c" stroke-width="2" stroke-dasharray="4.6 1.7" stroke-linecap="butt"/>
<g clip-path="url(#c11)"><g filter="url(#hl)">
<g filter="url(#ib16)"><rect x="-8" y="524" width="131" height="74" fill="#454545"/>
<path d="M21.56 549.97L35.94 544.94L57.5 542.35L71.88 545.23" fill="none" stroke="#2b2b2b" stroke-width="6.32" stroke-linecap="round" stroke-linejoin="round"/>
<ellipse cx="18.69" cy="562.91" rx="8.91" ry="6.9" fill="#787878"/>
<path d="M32.77 552.12C35.05 549.49 41.16 549.25 43.84 552.12C46.53 555 47.44 564.82 48.87 569.38C50.31 573.93 56.06 577.64 52.47 579.44C48.87 581.23 31.03 582.07 27.31 580.16C23.6 578.24 29.28 572.61 30.19 567.94C31.1 563.27 30.5 554.76 32.77 552.12Z" fill="#090909"/>
<ellipse cx="53.47" cy="562.19" rx="8.91" ry="6.61" fill="#949494" transform="rotate(10 53.47 562.19)"/>
<ellipse cx="66.12" cy="575.12" rx="6.04" ry="4.31" fill="#d6d6d6" transform="rotate(-20 66.12 575.12)"/>
<ellipse cx="57.5" cy="575.41" rx="4.6" ry="2.88" fill="#a1a1a1"/>
<path d="M69 560.75C69.96 557.16 74.27 552.84 77.62 550.69C80.98 548.53 85.77 547.33 89.12 547.81C92.48 548.29 95.59 551.05 97.75 553.56C99.91 556.08 100.62 559.31 102.06 562.91C103.5 566.5 105.78 572.49 106.37 575.12C106.97 577.76 110.93 577.88 105.66 578.72C100.39 579.56 80.38 581.23 74.75 580.16C69.12 579.08 72.83 575.48 71.88 572.25C70.92 569.02 68.04 564.34 69 560.75Z" fill="#4f4f4f"/>
<ellipse cx="92" cy="558.59" rx="7.19" ry="6.47" fill="#636363"/>
<ellipse cx="75.04" cy="560.75" rx="4.6" ry="6.9" fill="#303030" transform="rotate(-30 75.04 560.75)"/>
<path d="M80.5 576.56L93.44 574.84L104.22 576.85" fill="none" stroke="#363636" stroke-width="4.31" stroke-linecap="round" stroke-linejoin="round"/></g>
<ellipse cx="27.31" cy="557.88" rx="3.45" ry="2.16" fill="#bfbfbf"/>
<ellipse cx="40.25" cy="579.73" rx="7.19" ry="1.58" fill="#474747"/>
<ellipse cx="50.31" cy="562.91" rx="2.88" ry="1.58" fill="#bfbfbf"/>
<ellipse cx="66.41" cy="558.16" rx="1.58" ry="2.44" fill="#cccccc"/>
<ellipse cx="75.47" cy="580.59" rx="1.44" ry="1.15" fill="#0b0b0b"/>
<path d="M5.89 562.19C5.73 560.46 6.35 559.36 7.33 557.73C8.31 556.1 10.13 554.11 11.79 552.41C13.44 550.71 15.29 549.01 17.25 547.52C19.21 546.04 21.2 544.48 23.57 543.5C25.95 542.52 28.53 542.28 31.48 541.63C34.43 540.98 37.97 540.1 41.26 539.62C44.54 539.14 48.06 538.92 51.17 538.76C54.29 538.59 58 538.61 59.94 538.61C61.88 538.61 61.19 538.42 62.82 538.76C64.45 539.09 67.75 539.83 69.72 540.62C71.68 541.42 73.22 542.35 74.61 543.5C76 544.65 76.91 546.78 78.06 547.52C79.21 548.27 79.95 547.88 81.51 547.96C83.06 548.03 85.44 547.38 87.4 547.96C89.36 548.53 91.64 550.02 93.29 551.41C94.95 552.8 96.07 554.33 97.32 556.29C98.56 558.26 99.95 561.06 100.77 563.19C101.58 565.33 101.49 567.46 102.21 569.09C102.92 570.72 104.17 571.65 105.08 572.97C105.99 574.29 107.33 575.75 107.67 576.99C108 578.24 108.17 579.7 107.09 580.44C106.02 581.19 103.64 581.21 101.2 581.45C98.76 581.69 95.55 581.74 92.43 581.88C89.32 582.02 85.79 582.07 82.51 582.31C79.23 582.55 76.02 583.15 72.74 583.32C69.46 583.49 65.77 583.32 62.82 583.32C59.87 583.32 57.67 583.32 55.06 583.32C52.44 583.32 50.1 583.32 47.15 583.32C44.2 583.32 40.49 583.39 37.38 583.32C34.26 583.25 31.1 583.63 28.46 582.89C25.83 582.14 23.84 580.35 21.56 578.86C19.29 577.38 17.01 575.77 14.81 573.98C12.6 572.18 9.82 570.05 8.34 568.08C6.85 566.12 6.06 563.91 5.89 562.19Z" fill="none" stroke="#474747" stroke-width="2.2"/>
</g></g>
<path d="M5.89 562.19C5.73 560.46 6.35 559.36 7.33 557.73C8.31 556.1 10.13 554.11 11.79 552.41C13.44 550.71 15.29 549.01 17.25 547.52C19.21 546.04 21.2 544.48 23.57 543.5C25.95 542.52 28.53 542.28 31.48 541.63C34.43 540.98 37.97 540.1 41.26 539.62C44.54 539.14 48.06 538.92 51.17 538.76C54.29 538.59 58 538.61 59.94 538.61C61.88 538.61 61.19 538.42 62.82 538.76C64.45 539.09 67.75 539.83 69.72 540.62C71.68 541.42 73.22 542.35 74.61 543.5C76 544.65 76.91 546.78 78.06 547.52C79.21 548.27 79.95 547.88 81.51 547.96C83.06 548.03 85.44 547.38 87.4 547.96C89.36 548.53 91.64 550.02 93.29 551.41C94.95 552.8 96.07 554.33 97.32 556.29C98.56 558.26 99.95 561.06 100.77 563.19C101.58 565.33 101.49 567.46 102.21 569.09C102.92 570.72 104.17 571.65 105.08 572.97C105.99 574.29 107.33 575.75 107.67 576.99C108 578.24 108.17 579.7 107.09 580.44C106.02 581.19 103.64 581.21 101.2 581.45C98.76 581.69 95.55 581.74 92.43 581.88C89.32 582.02 85.79 582.07 82.51 582.31C79.23 582.55 76.02 583.15 72.74 583.32C69.46 583.49 65.77 583.32 62.82 583.32C59.87 583.32 57.67 583.32 55.06 583.32C52.44 583.32 50.1 583.32 47.15 583.32C44.2 583.32 40.49 583.39 37.38 583.32C34.26 583.25 31.1 583.63 28.46 582.89C25.83 582.14 23.84 580.35 21.56 578.86C19.29 577.38 17.01 575.77 14.81 573.98C12.6 572.18 9.82 570.05 8.34 568.08C6.85 566.12 6.06 563.91 5.89 562.19Z" fill="none" stroke="#ece21c" stroke-width="2" stroke-dasharray="4.6 1.7" stroke-linecap="butt"/>
<g clip-path="url(#c12)"><g filter="url(#hl)">
<g filter="url(#ib16)"><rect x="351" y="230" width="131" height="74" fill="#707070"/>
<ellipse cx="419.38" cy="270.34" rx="21.56" ry="12.22" fill="#949494"/>
<ellipse cx="416.5" cy="273.22" rx="7.47" ry="4.89" fill="#dedede"/>
<ellipse cx="416.5" cy="273.22" rx="3.74" ry="2.3" fill="#ffffff"/>
<ellipse cx="386.31" cy="273.94" rx="5.75" ry="6.04" fill="#adadad"/>
<ellipse cx="410.75" cy="263.88" rx="2.3" ry="4.31" fill="#b8b8b8"/>
<ellipse cx="429.44" cy="259.56" rx="6.04" ry="3.16" fill="#b0b0b0" transform="rotate(30 429.44 259.56)"/>
<ellipse cx="435.91" cy="269.62" rx="6.04" ry="6.04" fill="#a6a6a6"/>
<ellipse cx="398.53" cy="271.06" rx="5.46" ry="6.47" fill="#636363"/>
<ellipse cx="394.94" cy="258.12" rx="10.06" ry="4.31" fill="#5e5e5e" transform="rotate(-20 394.94 258.12)"/>
<path d="M443.81 259.56C445.97 256.45 453.28 258.72 456.75 259.56C460.22 260.4 462.86 262.44 464.66 264.59C466.45 266.75 467.17 269.51 467.53 272.5C467.89 275.49 469.57 280.65 466.81 282.56C464.06 284.48 454.83 284.72 451 284C447.17 283.28 445.01 282.32 443.81 278.25C442.61 274.18 441.66 262.68 443.81 259.56Z" fill="#616161"/></g>
<path d="M363.74 282.13C364.25 280.98 367.58 278.8 369.21 277.24C370.84 275.69 372.7 274.34 373.52 272.79C374.33 271.23 373.59 269.6 374.09 267.9C374.6 266.2 374.74 264.71 376.54 262.58C378.33 260.45 382.17 257 384.88 255.11C387.58 253.21 390.31 252.38 392.78 251.22C395.25 250.07 397.24 249 399.68 248.21C402.12 247.42 404.83 246.96 407.44 246.48C410.06 246 412.4 245.57 415.35 245.33C418.3 245.09 422.18 245.02 425.12 245.04C428.07 245.07 430.9 245.09 433.03 245.47C435.16 245.86 436.46 246.55 437.92 247.34C439.38 248.13 440.65 249.16 441.8 250.22C442.95 251.27 444 252.59 444.82 253.67C445.63 254.75 445.94 256.04 446.69 256.69C447.43 257.33 447.96 257.41 449.27 257.55C450.59 257.69 452.89 257.21 454.59 257.55C456.29 257.89 457.83 258.65 459.48 259.56C461.13 260.47 463.1 261.62 464.51 263.01C465.93 264.4 467.15 266.27 467.96 267.9C468.78 269.53 469.26 270.82 469.4 272.79C469.54 274.75 468.99 277.87 468.82 279.69C468.66 281.51 468.3 282.23 468.39 283.71C468.49 285.2 469.74 287.71 469.4 288.6C469.06 289.49 467.7 289.2 466.38 289.03C465.06 288.86 463.46 288.07 461.49 287.59C459.53 287.11 456.89 286.4 454.59 286.16C452.29 285.92 449.99 285.92 447.69 286.16C445.39 286.4 442.93 287.11 440.79 287.59C438.66 288.07 437.51 288.74 434.9 289.03C432.29 289.32 428.38 289.37 425.12 289.32C421.87 289.27 418.78 288.84 415.35 288.74C411.92 288.65 408.02 288.86 404.57 288.74C401.12 288.62 397.93 288.29 394.65 288.02C391.37 287.76 388.13 287.59 384.88 287.16C381.62 286.73 378.21 285.94 375.1 285.44C371.99 284.93 368.08 284.69 366.19 284.14C364.29 283.59 363.24 283.28 363.74 282.13Z" fill="none" stroke="#383838" stroke-width="3.4"/>
<path d="M445.25 276.81L453.88 282.56L463.94 284" fill="none" stroke="#474747" stroke-width="1.15" stroke-linecap="round" stroke-linejoin="round"/>
<path d="M430.88 247.06L437.06 249.07L440.79 252.09L443.67 255.39L446.11 258.56L449.56 259.56L454.31 259.56L458.76 261.57L463.22 264.88L465.95 268.76" fill="none" stroke="#ffffff" stroke-width="2.88" stroke-linecap="round" stroke-linejoin="round"/>
<path d="M367.91 282.42L375.1 283.71L384.88 285.44L394.65 286.3L404.57 286.88L415.35 287.02L425.12 287.59L433.75 287.31" fill="none" stroke="#ffffff" stroke-width="2.59" stroke-linecap="round" stroke-linejoin="round"/>
<ellipse cx="409.02" cy="286.01" rx="4.6" ry="1.87" fill="#ffffff"/>
<path d="M436.62 287.16L448.12 285.73L459.62 286.01" fill="none" stroke="#333333" stroke-width="1.15" stroke-linecap="round" stroke-linejoin="round"/>
<path d="M376.25 279.69L394.94 281.84L407.88 281.12" fill="none" stroke="#383838" stroke-width="0.72" stroke-linecap="round" stroke-linejoin="round"/>
</g></g>
<path d="M363.74 282.13C364.25 280.98 367.58 278.8 369.21 277.24C370.84 275.69 372.7 274.34 373.52 272.79C374.33 271.23 373.59 269.6 374.09 267.9C374.6 266.2 374.74 264.71 376.54 262.58C378.33 260.45 382.17 257 384.88 255.11C387.58 253.21 390.31 252.38 392.78 251.22C395.25 250.07 397.24 249 399.68 248.21C402.12 247.42 404.83 246.96 407.44 246.48C410.06 246 412.4 245.57 415.35 245.33C418.3 245.09 422.18 245.02 425.12 245.04C428.07 245.07 430.9 245.09 433.03 245.47C435.16 245.86 436.46 246.55 437.92 247.34C439.38 248.13 440.65 249.16 441.8 250.22C442.95 251.27 444 252.59 444.82 253.67C445.63 254.75 445.94 256.04 446.69 256.69C447.43 257.33 447.96 257.41 449.27 257.55C450.59 257.69 452.89 257.21 454.59 257.55C456.29 257.89 457.83 258.65 459.48 259.56C461.13 260.47 463.1 261.62 464.51 263.01C465.93 264.4 467.15 266.27 467.96 267.9C468.78 269.53 469.26 270.82 469.4 272.79C469.54 274.75 468.99 277.87 468.82 279.69C468.66 281.51 468.3 282.23 468.39 283.71C468.49 285.2 469.74 287.71 469.4 288.6C469.06 289.49 467.7 289.2 466.38 289.03C465.06 288.86 463.46 288.07 461.49 287.59C459.53 287.11 456.89 286.4 454.59 286.16C452.29 285.92 449.99 285.92 447.69 286.16C445.39 286.4 442.93 287.11 440.79 287.59C438.66 288.07 437.51 288.74 434.9 289.03C432.29 289.32 428.38 289.37 425.12 289.32C421.87 289.27 418.78 288.84 415.35 288.74C411.92 288.65 408.02 288.86 404.57 288.74C401.12 288.62 397.93 288.29 394.65 288.02C391.37 287.76 388.13 287.59 384.88 287.16C381.62 286.73 378.21 285.94 375.1 285.44C371.99 284.93 368.08 284.69 366.19 284.14C364.29 283.59 363.24 283.28 363.74 282.13Z" fill="none" stroke="#ece21c" stroke-width="2" stroke-dasharray="4.6 1.7" stroke-linecap="butt"/>
<g clip-path="url(#c13)"><g filter="url(#hl)">
<g filter="url(#ib16)"><rect x="351" y="288" width="131" height="74" fill="#4f4f4f"/>
<ellipse cx="387.75" cy="313.97" rx="25.16" ry="8.62" fill="#383838" transform="rotate(-15 387.75 313.97)"/>
<ellipse cx="390.91" cy="326.91" rx="6.9" ry="7.47" fill="#1a1a1a"/>
<ellipse cx="390.91" cy="326.19" rx="3.88" ry="4.31" fill="#131313"/>
<ellipse cx="410.75" cy="329.06" rx="2.88" ry="14.37" fill="#262626"/>
<ellipse cx="400.69" cy="330.5" rx="5.03" ry="10.06" fill="#696969"/>
<ellipse cx="373.38" cy="337.69" rx="10.78" ry="5.46" fill="#787878"/>
<ellipse cx="426.56" cy="325.47" rx="10.78" ry="9.34" fill="#828282"/>
<ellipse cx="443.81" cy="337.69" rx="25.16" ry="8.91" fill="#969696" transform="rotate(-3 443.81 337.69)"/>
<ellipse cx="449.56" cy="338.55" rx="12.94" ry="4.31" fill="#a1a1a1"/>
<ellipse cx="443.81" cy="321.16" rx="7.19" ry="5.46" fill="#4d4d4d"/></g>
<ellipse cx="411.47" cy="334.09" rx="2.01" ry="6.47" fill="#141414"/>
<ellipse cx="437.34" cy="309.23" rx="2.59" ry="1.44" fill="#cccccc"/>
<ellipse cx="461.35" cy="324.75" rx="1.29" ry="3.74" fill="#dedede" transform="rotate(-15 461.35 324.75)"/>
<path d="M364.61 342.72C363.43 341.57 363 339.46 362.88 337.83C362.76 336.2 363.36 334.91 363.89 332.94C364.41 330.98 365.44 328.01 366.04 326.04C366.64 324.08 366.5 322.79 367.48 321.16C368.46 319.53 370.21 317.75 371.94 316.27C373.66 314.78 375.7 313.49 377.83 312.24C379.96 311 382.26 309.85 384.73 308.79C387.2 307.74 390.03 306.78 392.64 305.92C395.25 305.06 397.62 304.19 400.4 303.62C403.18 303.04 406.03 302.73 409.31 302.47C412.59 302.21 417.99 302.01 420.09 302.04C422.2 302.06 420.5 302.21 421.96 302.61C423.42 303.02 426.87 303.76 428.86 304.48C430.85 305.2 432.41 306.18 433.89 306.93C435.38 307.67 436.15 308.77 437.77 308.94C439.4 309.11 441.87 308.1 443.67 307.93C445.47 307.76 446.76 307.36 448.56 307.93C450.35 308.51 452.65 309.99 454.45 311.38C456.25 312.77 457.85 314.3 459.34 316.27C460.82 318.23 462.21 320.87 463.36 323.17C464.51 325.47 465.26 327.94 466.24 330.07C467.22 332.2 468.85 334.17 469.26 335.96C469.66 337.76 469.18 339.39 468.68 340.85C468.18 342.31 467.79 343.68 466.24 344.73C464.68 345.79 462.12 346.6 459.34 347.18C456.56 347.75 452.82 348.01 449.56 348.18C446.3 348.35 443.07 348.25 439.79 348.18C436.51 348.11 432.34 348.16 429.87 347.75C427.4 347.34 426.44 346.48 424.98 345.74C423.52 344.99 422.73 343.51 421.1 343.29C419.47 343.08 417.17 343.96 415.21 344.44C413.24 344.92 411.92 345.83 409.31 346.17C406.7 346.5 402.82 346.46 399.54 346.46C396.26 346.46 392.9 346.29 389.62 346.17C386.34 346.05 383.13 345.98 379.84 345.74C376.56 345.5 372.46 345.23 369.93 344.73C367.39 344.23 365.78 343.87 364.61 342.72Z" fill="none" stroke="#474747" stroke-width="2.2"/>
</g></g>
<path d="M364.61 342.72C363.43 341.57 363 339.46 362.88 337.83C362.76 336.2 363.36 334.91 363.89 332.94C364.41 330.98 365.44 328.01 366.04 326.04C366.64 324.08 366.5 322.79 367.48 321.16C368.46 319.53 370.21 317.75 371.94 316.27C373.66 314.78 375.7 313.49 377.83 312.24C379.96 311 382.26 309.85 384.73 308.79C387.2 307.74 390.03 306.78 392.64 305.92C395.25 305.06 397.62 304.19 400.4 303.62C403.18 303.04 406.03 302.73 409.31 302.47C412.59 302.21 417.99 302.01 420.09 302.04C422.2 302.06 420.5 302.21 421.96 302.61C423.42 303.02 426.87 303.76 428.86 304.48C430.85 305.2 432.41 306.18 433.89 306.93C435.38 307.67 436.15 308.77 437.77 308.94C439.4 309.11 441.87 308.1 443.67 307.93C445.47 307.76 446.76 307.36 448.56 307.93C450.35 308.51 452.65 309.99 454.45 311.38C456.25 312.77 457.85 314.3 459.34 316.27C460.82 318.23 462.21 320.87 463.36 323.17C464.51 325.47 465.26 327.94 466.24 330.07C467.22 332.2 468.85 334.17 469.26 335.96C469.66 337.76 469.18 339.39 468.68 340.85C468.18 342.31 467.79 343.68 466.24 344.73C464.68 345.79 462.12 346.6 459.34 347.18C456.56 347.75 452.82 348.01 449.56 348.18C446.3 348.35 443.07 348.25 439.79 348.18C436.51 348.11 432.34 348.16 429.87 347.75C427.4 347.34 426.44 346.48 424.98 345.74C423.52 344.99 422.73 343.51 421.1 343.29C419.47 343.08 417.17 343.96 415.21 344.44C413.24 344.92 411.92 345.83 409.31 346.17C406.7 346.5 402.82 346.46 399.54 346.46C396.26 346.46 392.9 346.29 389.62 346.17C386.34 346.05 383.13 345.98 379.84 345.74C376.56 345.5 372.46 345.23 369.93 344.73C367.39 344.23 365.78 343.87 364.61 342.72Z" fill="none" stroke="#ece21c" stroke-width="2" stroke-dasharray="4.6 1.7" stroke-linecap="butt"/>
<g clip-path="url(#c14)"><g filter="url(#hl)">
<g filter="url(#ib16)"><rect x="351" y="346" width="131" height="74" fill="#666666"/>
<ellipse cx="386.31" cy="369.81" rx="16.53" ry="6.47" fill="#383838" transform="rotate(-15 386.31 369.81)"/>
<ellipse cx="416.5" cy="384.19" rx="14.37" ry="7.91" fill="#8a8a8a"/>
<ellipse cx="382" cy="384.91" rx="8.62" ry="5.03" fill="#8f8f8f"/>
<path d="M397.09 374.84C398.77 372.57 403.08 373.53 404.28 376.28C405.48 379.04 403.56 387.3 404.28 391.38C405 395.45 410.75 399.16 408.59 400.72C406.44 402.28 393.74 402.52 391.34 400.72C388.95 398.92 393.26 394.25 394.22 389.94C395.18 385.62 395.42 377.12 397.09 374.84Z" fill="#1f1f1f"/>
<ellipse cx="397.81" cy="395.98" rx="6.9" ry="3.74" fill="#121212"/>
<ellipse cx="433.75" cy="382.75" rx="2.88" ry="8.91" fill="#b2b2b2" transform="rotate(10 433.75 382.75)"/>
<ellipse cx="380.56" cy="384.48" rx="4.6" ry="3.16" fill="#b2b2b2"/>
<ellipse cx="419.38" cy="372.69" rx="8.62" ry="4.31" fill="#737373"/>
<path d="M439.5 371.25C441.18 367.9 445.25 369.09 448.12 369.81C451 370.53 454.59 373.05 456.75 375.56C458.91 378.08 459.74 381.55 461.06 384.91C462.38 388.26 464.18 393.05 464.66 395.69C465.14 398.32 468.61 399.64 463.94 400.72C459.27 401.8 440.94 403.95 436.62 402.16C432.31 400.36 437.58 395.09 438.06 389.94C438.54 384.79 437.82 374.6 439.5 371.25Z" fill="#616161"/>
<ellipse cx="459.62" cy="397.12" rx="3.74" ry="2.59" fill="#cccccc"/>
<ellipse cx="419.38" cy="397.12" rx="8.62" ry="3.59" fill="#7a7a7a"/></g>
<path d="M407.88 381.31L413.62 386.77L422.97 387.35" fill="none" stroke="#b2b2b2" stroke-width="2.88" stroke-linecap="round" stroke-linejoin="round"/>
<ellipse cx="371.65" cy="382.75" rx="3.45" ry="2.16" fill="#cccccc" transform="rotate(20 371.65 382.75)"/>
<ellipse cx="425.84" cy="380.59" rx="1.29" ry="2.16" fill="#dedede"/>
<ellipse cx="407.88" cy="372.98" rx="1.29" ry="1.58" fill="#cccccc"/>
<ellipse cx="442.38" cy="395.69" rx="1.87" ry="2.16" fill="#cccccc"/>
<ellipse cx="449.85" cy="391.66" rx="3.16" ry="1.58" fill="#b8b8b8" transform="rotate(30 449.85 391.66)"/>
<path d="M440.94 389.94L448.12 395.69L456.75 394.25" fill="none" stroke="#474747" stroke-width="1.29" stroke-linecap="round" stroke-linejoin="round"/>
<path d="M365.76 383.61C365.59 381.89 366.21 380.79 367.19 379.16C368.18 377.53 370 375.54 371.65 373.84C373.3 372.14 375.15 370.44 377.11 368.95C379.08 367.46 381.07 365.91 383.44 364.93C385.81 363.94 388.4 363.7 391.34 363.06C394.29 362.41 397.84 361.52 401.12 361.04C404.4 360.56 407.92 360.35 411.04 360.18C414.15 360.01 417.87 360.04 419.81 360.04C421.75 360.04 421.05 359.85 422.68 360.18C424.31 360.52 427.62 361.26 429.58 362.05C431.55 362.84 433.08 363.78 434.47 364.93C435.86 366.07 436.77 368.21 437.92 368.95C439.07 369.69 439.81 369.31 441.37 369.38C442.93 369.45 445.3 368.81 447.26 369.38C449.23 369.96 451.5 371.44 453.16 372.83C454.81 374.22 455.94 375.75 457.18 377.72C458.43 379.68 459.82 382.49 460.63 384.62C461.45 386.75 461.35 388.88 462.07 390.51C462.79 392.14 464.03 393.08 464.94 394.39C465.85 395.71 467.2 397.17 467.53 398.42C467.87 399.66 468.03 401.13 466.96 401.87C465.88 402.61 463.51 402.64 461.06 402.88C458.62 403.11 455.41 403.16 452.29 403.31C449.18 403.45 445.66 403.5 442.38 403.74C439.09 403.98 435.88 404.58 432.6 404.74C429.32 404.91 425.63 404.74 422.68 404.74C419.73 404.74 417.53 404.74 414.92 404.74C412.31 404.74 409.96 404.74 407.01 404.74C404.07 404.74 400.35 404.82 397.24 404.74C394.12 404.67 390.96 405.06 388.32 404.31C385.69 403.57 383.7 401.77 381.43 400.29C379.15 398.8 376.87 397.2 374.67 395.4C372.46 393.6 369.69 391.47 368.2 389.51C366.71 387.54 365.92 385.34 365.76 383.61Z" fill="none" stroke="#525252" stroke-width="2.2"/>
</g></g>
<path d="M365.76 383.61C365.59 381.89 366.21 380.79 367.19 379.16C368.18 377.53 370 375.54 371.65 373.84C373.3 372.14 375.15 370.44 377.11 368.95C379.08 367.46 381.07 365.91 383.44 364.93C385.81 363.94 388.4 363.7 391.34 363.06C394.29 362.41 397.84 361.52 401.12 361.04C404.4 360.56 407.92 360.35 411.04 360.18C414.15 360.01 417.87 360.04 419.81 360.04C421.75 360.04 421.05 359.85 422.68 360.18C424.31 360.52 427.62 361.26 429.58 362.05C431.55 362.84 433.08 363.78 434.47 364.93C435.86 366.07 436.77 368.21 437.92 368.95C439.07 369.69 439.81 369.31 441.37 369.38C442.93 369.45 445.3 368.81 447.26 369.38C449.23 369.96 451.5 371.44 453.16 372.83C454.81 374.22 455.94 375.75 457.18 377.72C458.43 379.68 459.82 382.49 460.63 384.62C461.45 386.75 461.35 388.88 462.07 390.51C462.79 392.14 464.03 393.08 464.94 394.39C465.85 395.71 467.2 397.17 467.53 398.42C467.87 399.66 468.03 401.13 466.96 401.87C465.88 402.61 463.51 402.64 461.06 402.88C458.62 403.11 455.41 403.16 452.29 403.31C449.18 403.45 445.66 403.5 442.38 403.74C439.09 403.98 435.88 404.58 432.6 404.74C429.32 404.91 425.63 404.74 422.68 404.74C419.73 404.74 417.53 404.74 414.92 404.74C412.31 404.74 409.96 404.74 407.01 404.74C404.07 404.74 400.35 404.82 397.24 404.74C394.12 404.67 390.96 405.06 388.32 404.31C385.69 403.57 383.7 401.77 381.43 400.29C379.15 398.8 376.87 397.2 374.67 395.4C372.46 393.6 369.69 391.47 368.2 389.51C366.71 387.54 365.92 385.34 365.76 383.61Z" fill="none" stroke="#ece21c" stroke-width="2" stroke-dasharray="4.6 1.7" stroke-linecap="butt"/>
<g clip-path="url(#c15)"><g filter="url(#hd)">
<g filter="url(#ib08)"><rect x="351" y="408" width="131" height="74" fill="#020202"/>
<ellipse cx="402.12" cy="451.94" rx="31.62" ry="11.5" fill="#030303"/>
<ellipse cx="458.19" cy="450.5" rx="8.62" ry="11.5" fill="#030303"/></g>
<ellipse cx="430.88" cy="445.47" rx="3.16" ry="1.44" fill="#474747" transform="rotate(30 430.88 445.47)"/>
<ellipse cx="407.88" cy="462.72" rx="4.02" ry="1.44" fill="#6b6b6b"/>
<ellipse cx="433.75" cy="426.06" rx="3.16" ry="1.44" fill="#5e5e5e" transform="rotate(20 433.75 426.06)"/>
<ellipse cx="453.16" cy="437.27" rx="5.75" ry="1.15" fill="#5e5e5e" transform="rotate(15 453.16 437.27)"/>
<path d="M413.62 464.3L423.69 465.16L433.75 465.16" fill="none" stroke="#b8b8b8" stroke-width="0.57" stroke-linecap="round" stroke-linejoin="round"/>
<path d="M363.46 460.56C363.96 459.41 367.29 457.23 368.92 455.68C370.55 454.12 372.42 452.78 373.23 451.22C374.05 449.66 373.3 448.03 373.81 446.33C374.31 444.63 374.45 443.14 376.25 441.01C378.05 438.88 381.88 435.43 384.59 433.54C387.29 431.64 390.03 430.81 392.49 429.66C394.96 428.51 396.95 427.43 399.39 426.64C401.84 425.85 404.54 425.39 407.16 424.91C409.77 424.43 412.12 424 415.06 423.76C418.01 423.52 421.89 423.45 424.84 423.48C427.78 423.5 430.61 423.52 432.74 423.91C434.88 424.29 436.17 424.98 437.63 425.77C439.09 426.57 440.36 427.6 441.51 428.65C442.66 429.7 443.72 431.02 444.53 432.1C445.35 433.18 445.66 434.47 446.4 435.12C447.14 435.77 447.67 435.84 448.99 435.98C450.31 436.12 452.61 435.65 454.31 435.98C456.01 436.32 457.54 437.08 459.19 437.99C460.85 438.9 462.81 440.05 464.23 441.44C465.64 442.83 466.86 444.7 467.68 446.33C468.49 447.96 468.97 449.25 469.11 451.22C469.26 453.18 468.71 456.3 468.54 458.12C468.37 459.94 468.01 460.66 468.11 462.14C468.2 463.63 469.45 466.14 469.11 467.03C468.78 467.92 467.41 467.63 466.09 467.46C464.78 467.29 463.17 466.5 461.21 466.02C459.24 465.55 456.61 464.83 454.31 464.59C452.01 464.35 449.71 464.35 447.41 464.59C445.11 464.83 442.64 465.55 440.51 466.02C438.37 466.5 437.22 467.17 434.61 467.46C432 467.75 428.1 467.8 424.84 467.75C421.58 467.7 418.49 467.27 415.06 467.18C411.64 467.08 407.73 467.29 404.28 467.18C400.83 467.06 397.64 466.72 394.36 466.46C391.08 466.19 387.85 466.02 384.59 465.59C381.33 465.16 377.93 464.37 374.81 463.87C371.7 463.37 367.79 463.13 365.9 462.57C364.01 462.02 362.95 461.71 363.46 460.56Z" fill="none" stroke="#575757" stroke-width="3.2"/>
</g></g>
<path d="M363.46 460.56C363.96 459.41 367.29 457.23 368.92 455.68C370.55 454.12 372.42 452.78 373.23 451.22C374.05 449.66 373.3 448.03 373.81 446.33C374.31 444.63 374.45 443.14 376.25 441.01C378.05 438.88 381.88 435.43 384.59 433.54C387.29 431.64 390.03 430.81 392.49 429.66C394.96 428.51 396.95 427.43 399.39 426.64C401.84 425.85 404.54 425.39 407.16 424.91C409.77 424.43 412.12 424 415.06 423.76C418.01 423.52 421.89 423.45 424.84 423.48C427.78 423.5 430.61 423.52 432.74 423.91C434.88 424.29 436.17 424.98 437.63 425.77C439.09 426.57 440.36 427.6 441.51 428.65C442.66 429.7 443.72 431.02 444.53 432.1C445.35 433.18 445.66 434.47 446.4 435.12C447.14 435.77 447.67 435.84 448.99 435.98C450.31 436.12 452.61 435.65 454.31 435.98C456.01 436.32 457.54 437.08 459.19 437.99C460.85 438.9 462.81 440.05 464.23 441.44C465.64 442.83 466.86 444.7 467.68 446.33C468.49 447.96 468.97 449.25 469.11 451.22C469.26 453.18 468.71 456.3 468.54 458.12C468.37 459.94 468.01 460.66 468.11 462.14C468.2 463.63 469.45 466.14 469.11 467.03C468.78 467.92 467.41 467.63 466.09 467.46C464.78 467.29 463.17 466.5 461.21 466.02C459.24 465.55 456.61 464.83 454.31 464.59C452.01 464.35 449.71 464.35 447.41 464.59C445.11 464.83 442.64 465.55 440.51 466.02C438.37 466.5 437.22 467.17 434.61 467.46C432 467.75 428.1 467.8 424.84 467.75C421.58 467.7 418.49 467.27 415.06 467.18C411.64 467.08 407.73 467.29 404.28 467.18C400.83 467.06 397.64 466.72 394.36 466.46C391.08 466.19 387.85 466.02 384.59 465.59C381.33 465.16 377.93 464.37 374.81 463.87C371.7 463.37 367.79 463.13 365.9 462.57C364.01 462.02 362.95 461.71 363.46 460.56Z" fill="none" stroke="#ece21c" stroke-width="1.75" stroke-dasharray="4.6 1.7" stroke-linecap="butt"/>
<g clip-path="url(#c16)"><g filter="url(#hd)">
<g filter="url(#ib08)"><rect x="351" y="466" width="131" height="74" fill="#010101"/>
<ellipse cx="430.88" cy="505.62" rx="31.62" ry="14.37" fill="#030303"/>
<ellipse cx="394.22" cy="509.94" rx="8.91" ry="15.09" fill="#2e2e2e" transform="rotate(-32 394.22 509.94)"/>
<ellipse cx="393.21" cy="508.5" rx="4.31" ry="8.91" fill="#4a4a4a" transform="rotate(-32 393.21 508.5)"/></g>
<ellipse cx="397.81" cy="518.56" rx="3.16" ry="2.01" fill="#575757"/>
<path d="M449.56 487.23L458.19 492.69L461.78 502.75L463.94 508.5" fill="none" stroke="#787878" stroke-width="1.29" stroke-linecap="round" stroke-linejoin="round"/>
<ellipse cx="454.59" cy="490.1" rx="1.29" ry="1.15" fill="#cccccc"/>
<path d="M364.61 520.86C363.43 519.71 363 517.6 362.88 515.98C362.76 514.35 363.36 513.05 363.89 511.09C364.41 509.12 365.44 506.15 366.04 504.19C366.64 502.22 366.5 500.93 367.48 499.3C368.46 497.67 370.21 495.9 371.94 494.41C373.66 492.93 375.7 491.63 377.83 490.39C379.96 489.14 382.26 487.99 384.73 486.94C387.2 485.88 390.03 484.93 392.64 484.06C395.25 483.2 397.62 482.34 400.4 481.76C403.18 481.19 406.03 480.88 409.31 480.61C412.59 480.35 417.99 480.16 420.09 480.18C422.2 480.21 420.5 480.35 421.96 480.76C423.42 481.16 426.87 481.91 428.86 482.62C430.85 483.34 432.41 484.33 433.89 485.07C435.38 485.81 436.15 486.91 437.77 487.08C439.4 487.25 441.87 486.24 443.67 486.07C445.47 485.91 446.76 485.5 448.56 486.07C450.35 486.65 452.65 488.14 454.45 489.52C456.25 490.91 457.85 492.45 459.34 494.41C460.82 496.38 462.21 499.01 463.36 501.31C464.51 503.61 465.26 506.08 466.24 508.21C467.22 510.34 468.85 512.31 469.26 514.11C469.66 515.9 469.18 517.53 468.68 518.99C468.18 520.46 467.79 521.82 466.24 522.88C464.68 523.93 462.12 524.74 459.34 525.32C456.56 525.89 452.82 526.16 449.56 526.33C446.3 526.49 443.07 526.4 439.79 526.33C436.51 526.25 432.34 526.3 429.87 525.89C427.4 525.49 426.44 524.62 424.98 523.88C423.52 523.14 422.73 521.65 421.1 521.44C419.47 521.22 417.17 522.11 415.21 522.59C413.24 523.07 411.92 523.98 409.31 524.31C406.7 524.65 402.82 524.6 399.54 524.6C396.26 524.6 392.9 524.43 389.62 524.31C386.34 524.19 383.13 524.12 379.84 523.88C376.56 523.64 372.46 523.38 369.93 522.88C367.39 522.37 365.78 522.01 364.61 520.86Z" fill="none" stroke="#2b2b2b" stroke-width="2"/>
</g></g>
<path d="M364.61 520.86C363.43 519.71 363 517.6 362.88 515.98C362.76 514.35 363.36 513.05 363.89 511.09C364.41 509.12 365.44 506.15 366.04 504.19C366.64 502.22 366.5 500.93 367.48 499.3C368.46 497.67 370.21 495.9 371.94 494.41C373.66 492.93 375.7 491.63 377.83 490.39C379.96 489.14 382.26 487.99 384.73 486.94C387.2 485.88 390.03 484.93 392.64 484.06C395.25 483.2 397.62 482.34 400.4 481.76C403.18 481.19 406.03 480.88 409.31 480.61C412.59 480.35 417.99 480.16 420.09 480.18C422.2 480.21 420.5 480.35 421.96 480.76C423.42 481.16 426.87 481.91 428.86 482.62C430.85 483.34 432.41 484.33 433.89 485.07C435.38 485.81 436.15 486.91 437.77 487.08C439.4 487.25 441.87 486.24 443.67 486.07C445.47 485.91 446.76 485.5 448.56 486.07C450.35 486.65 452.65 488.14 454.45 489.52C456.25 490.91 457.85 492.45 459.34 494.41C460.82 496.38 462.21 499.01 463.36 501.31C464.51 503.61 465.26 506.08 466.24 508.21C467.22 510.34 468.85 512.31 469.26 514.11C469.66 515.9 469.18 517.53 468.68 518.99C468.18 520.46 467.79 521.82 466.24 522.88C464.68 523.93 462.12 524.74 459.34 525.32C456.56 525.89 452.82 526.16 449.56 526.33C446.3 526.49 443.07 526.4 439.79 526.33C436.51 526.25 432.34 526.3 429.87 525.89C427.4 525.49 426.44 524.62 424.98 523.88C423.52 523.14 422.73 521.65 421.1 521.44C419.47 521.22 417.17 522.11 415.21 522.59C413.24 523.07 411.92 523.98 409.31 524.31C406.7 524.65 402.82 524.6 399.54 524.6C396.26 524.6 392.9 524.43 389.62 524.31C386.34 524.19 383.13 524.12 379.84 523.88C376.56 523.64 372.46 523.38 369.93 522.88C367.39 522.37 365.78 522.01 364.61 520.86Z" fill="none" stroke="#ece21c" stroke-width="1.75" stroke-dasharray="4.6 1.7" stroke-linecap="butt"/>
<g clip-path="url(#c17)"><g filter="url(#hs)">
<g filter="url(#ib06)"><rect x="351" y="524" width="131" height="74" fill="#000000"/>
<path d="M398.53 555C400.45 554.76 402.01 560.99 405 565.06C407.99 569.14 416.98 576.8 416.5 579.44C416.02 582.07 406.68 580.88 402.12 580.88C397.57 580.88 390.62 581.83 389.19 579.44C387.75 577.04 391.94 570.57 393.5 566.5C395.06 562.43 396.61 555.24 398.53 555Z" fill="#262626"/>
<ellipse cx="393.5" cy="579.44" rx="3.74" ry="2.88" fill="#f5f5f5"/></g>
<path d="M366.48 562.48L370.79 569.66L380.56 578.29L389.19 582.31L416.5 582.89" fill="none" stroke="#878787" stroke-width="2.01" stroke-linecap="round" stroke-linejoin="round"/>
<path d="M376.25 573.69L382 577.71" fill="none" stroke="#b8b8b8" stroke-width="0.86" stroke-linecap="round" stroke-linejoin="round"/>
<ellipse cx="408.16" cy="553.56" rx="0.5" ry="1.01" fill="#5e5e5e" transform="rotate(30 408.16 553.56)"/>
<ellipse cx="426.56" cy="561.47" rx="0.43" ry="0.86" fill="#5e5e5e" transform="rotate(20 426.56 561.47)"/>
<ellipse cx="431.59" cy="579.15" rx="1.44" ry="1.44" fill="#a1a1a1"/>
<path d="M365.32 561.9C365.16 560.17 365.78 559.07 366.76 557.44C367.74 555.81 369.57 553.83 371.22 552.12C372.87 550.42 374.72 548.72 376.68 547.24C378.65 545.75 380.63 544.19 383.01 543.21C385.38 542.23 387.97 541.99 390.91 541.34C393.86 540.7 397.41 539.81 400.69 539.33C403.97 538.85 407.49 538.64 410.61 538.47C413.72 538.3 417.43 538.33 419.38 538.33C421.32 538.33 420.62 538.13 422.25 538.47C423.88 538.8 427.19 539.55 429.15 540.34C431.11 541.13 432.65 542.06 434.04 543.21C435.43 544.36 436.34 546.49 437.49 547.24C438.64 547.98 439.38 547.6 440.94 547.67C442.49 547.74 444.87 547.09 446.83 547.67C448.8 548.24 451.07 549.73 452.73 551.12C454.38 552.51 455.5 554.04 456.75 556.01C458 557.97 459.39 560.77 460.2 562.91C461.01 565.04 460.92 567.17 461.64 568.8C462.36 570.43 463.6 571.36 464.51 572.68C465.42 574 466.76 575.46 467.1 576.71C467.44 577.95 467.6 579.41 466.52 580.16C465.45 580.9 463.08 580.92 460.63 581.16C458.19 581.4 454.98 581.45 451.86 581.59C448.75 581.74 445.23 581.79 441.94 582.02C438.66 582.26 435.45 582.86 432.17 583.03C428.89 583.2 425.2 583.03 422.25 583.03C419.3 583.03 417.1 583.03 414.49 583.03C411.88 583.03 409.53 583.03 406.58 583.03C403.63 583.03 399.92 583.1 396.81 583.03C393.69 582.96 390.53 583.34 387.89 582.6C385.26 581.86 383.27 580.06 380.99 578.58C378.72 577.09 376.44 575.48 374.24 573.69C372.03 571.89 369.25 569.76 367.77 567.79C366.28 565.83 365.49 563.62 365.32 561.9Z" fill="none" stroke="#474747" stroke-width="2.5"/>
</g></g>
<path d="M365.32 561.9C365.16 560.17 365.78 559.07 366.76 557.44C367.74 555.81 369.57 553.83 371.22 552.12C372.87 550.42 374.72 548.72 376.68 547.24C378.65 545.75 380.63 544.19 383.01 543.21C385.38 542.23 387.97 541.99 390.91 541.34C393.86 540.7 397.41 539.81 400.69 539.33C403.97 538.85 407.49 538.64 410.61 538.47C413.72 538.3 417.43 538.33 419.38 538.33C421.32 538.33 420.62 538.13 422.25 538.47C423.88 538.8 427.19 539.55 429.15 540.34C431.11 541.13 432.65 542.06 434.04 543.21C435.43 544.36 436.34 546.49 437.49 547.24C438.64 547.98 439.38 547.6 440.94 547.67C442.49 547.74 444.87 547.09 446.83 547.67C448.8 548.24 451.07 549.73 452.73 551.12C454.38 552.51 455.5 554.04 456.75 556.01C458 557.97 459.39 560.77 460.2 562.91C461.01 565.04 460.92 567.17 461.64 568.8C462.36 570.43 463.6 571.36 464.51 572.68C465.42 574 466.76 575.46 467.1 576.71C467.44 577.95 467.6 579.41 466.52 580.16C465.45 580.9 463.08 580.92 460.63 581.16C458.19 581.4 454.98 581.45 451.86 581.59C448.75 581.74 445.23 581.79 441.94 582.02C438.66 582.26 435.45 582.86 432.17 583.03C428.89 583.2 425.2 583.03 422.25 583.03C419.3 583.03 417.1 583.03 414.49 583.03C411.88 583.03 409.53 583.03 406.58 583.03C403.63 583.03 399.92 583.1 396.81 583.03C393.69 582.96 390.53 583.34 387.89 582.6C385.26 581.86 383.27 580.06 380.99 578.58C378.72 577.09 376.44 575.48 374.24 573.69C372.03 571.89 369.25 569.76 367.77 567.79C366.28 565.83 365.49 563.62 365.32 561.9Z" fill="none" stroke="#ece21c" stroke-width="1.75" stroke-dasharray="4.6 1.7" stroke-linecap="butt"/>
<path d="M160.1 39.6V166.4H352.1" fill="none" stroke="#3a3a3a" stroke-width="1"/>
<path d="M155.1 166.4H160.1M155.1 128.93H160.1M155.1 91.46H160.1M155.1 53.99H160.1M157.5 153.91H160.1M157.5 141.42H160.1M157.5 116.44H160.1M157.5 103.95H160.1M157.5 78.97H160.1M157.5 66.48H160.1M157.5 41.5H160.1M170.9 166.4v3.4M198.63 166.4v3.4M226.36 166.4v3.4M254.09 166.4v3.4M281.82 166.4v3.4M309.55 166.4v3.4M337.28 166.4v3.4" fill="none" stroke="#3a3a3a" stroke-width="0.9"/>
<text x="152.9" y="168.8" class="tk" text-anchor="end">0</text>
<text x="152.9" y="131.33" class="tk" text-anchor="end">10000</text>
<text x="152.9" y="93.86" class="tk" text-anchor="end">20000</text>
<text x="152.9" y="56.39" class="tk" text-anchor="end">30000</text>
<text transform="translate(170.9 179.4) scale(0.86 1)" class="ct" text-anchor="middle">CTX</text>
<text transform="translate(198.63 179.4) scale(0.86 1)" class="ct" text-anchor="middle">HP</text>
<text transform="translate(226.36 179.4) scale(0.86 1)" class="ct" text-anchor="middle">FT</text>
<text transform="translate(254.09 179.4) scale(0.86 1)" class="ct" text-anchor="middle">CBC</text>
<text transform="translate(281.82 179.4) scale(0.86 1)" class="ct" text-anchor="middle">CP</text>
<text transform="translate(309.55 179.4) scale(0.86 1)" class="ct" text-anchor="middle">HY</text>
<text transform="translate(337.28 179.4) scale(0.86 1)" class="ct" text-anchor="middle">TH</text>
<text x="255.7" y="25.2" class="ti" text-anchor="middle">GLucose-6-phosphate</text>
<text transform="translate(130.2 103.7) rotate(-90)" class="yl" text-anchor="middle">Relative Intensity</text>
<rect x="161.9" y="162.65" width="4" height="3.75" fill="#fff" stroke="#ff9292" stroke-width="1"/>
<path d="M163.9 162.65V145.42M162.9 145.42h2" stroke="#ff9292" stroke-width="1.2" fill="none"/>
<rect x="168.9" y="88.46" width="4" height="77.94" fill="#fff" stroke="#2fc82f" stroke-width="1"/>
<path d="M170.9 88.46V55.11M169.9 55.11h2" stroke="#2fc82f" stroke-width="1.5" fill="none"/>
<rect x="175.9" y="161.53" width="4" height="4.87" fill="#fff" stroke="#6464ff" stroke-width="1"/>
<path d="M177.9 161.53V142.04M176.9 142.04h2" stroke="#6464ff" stroke-width="1.2" fill="none"/>
<rect x="189.63" y="164.53" width="4" height="1.87" fill="#fff" stroke="#ff9292" stroke-width="1"/>
<path d="M191.63 164.53V152.16M190.63 152.16h2" stroke="#ff9292" stroke-width="1.2" fill="none"/>
<rect x="196.63" y="99.7" width="4" height="66.7" fill="#fff" stroke="#2fc82f" stroke-width="1"/>
<path d="M198.63 99.7V76.47M197.63 76.47h2" stroke="#2fc82f" stroke-width="1.5" fill="none"/>
<rect x="203.63" y="164.53" width="4" height="1.87" fill="#fff" stroke="#6464ff" stroke-width="1"/>
<path d="M205.63 164.53V157.78M204.63 157.78h2" stroke="#6464ff" stroke-width="1.2" fill="none"/>
<path d="M219.36 166.03V165.46M218.36 165.46h2" stroke="#ff9292" stroke-width="1.2" fill="none"/>
<rect x="224.36" y="137.17" width="4" height="29.23" fill="#fff" stroke="#2fc82f" stroke-width="1"/>
<path d="M226.36 137.17V118.44M225.36 118.44h2" stroke="#2fc82f" stroke-width="1.5" fill="none"/>
<rect x="231.36" y="165.65" width="4" height="0.75" fill="#fff" stroke="#6464ff" stroke-width="1"/>
<path d="M233.36 165.65V160.78M232.36 160.78h2" stroke="#6464ff" stroke-width="1.2" fill="none"/>
<rect x="245.09" y="164.15" width="4" height="2.25" fill="#fff" stroke="#ff9292" stroke-width="1"/>
<path d="M247.09 164.15V157.41M246.09 157.41h2" stroke="#ff9292" stroke-width="1.2" fill="none"/>
<rect x="252.09" y="157.41" width="4" height="8.99" fill="#fff" stroke="#2fc82f" stroke-width="1"/>
<path d="M254.09 157.41V147.29M253.09 147.29h2" stroke="#2fc82f" stroke-width="1.5" fill="none"/>
<rect x="259.09" y="163.03" width="4" height="3.37" fill="#fff" stroke="#6464ff" stroke-width="1"/>
<path d="M261.09 163.03V154.41M260.09 154.41h2" stroke="#6464ff" stroke-width="1.2" fill="none"/>
<path d="M274.82 166.03V165.09M273.82 165.09h2" stroke="#ff9292" stroke-width="1.2" fill="none"/>
<rect x="279.82" y="164.15" width="4" height="2.25" fill="#fff" stroke="#2fc82f" stroke-width="1"/>
<path d="M281.82 164.15V152.91M280.82 152.91h2" stroke="#2fc82f" stroke-width="1.5" fill="none"/>
<path d="M288.82 166.03V164.53M287.82 164.53h2" stroke="#6464ff" stroke-width="1.2" fill="none"/>
<rect x="300.55" y="165.65" width="4" height="0.75" fill="#fff" stroke="#ff9292" stroke-width="1"/>
<path d="M302.55 165.65V158.91M301.55 158.91h2" stroke="#ff9292" stroke-width="1.2" fill="none"/>
<rect x="307.55" y="99.33" width="4" height="67.07" fill="#fff" stroke="#2fc82f" stroke-width="1"/>
<path d="M309.55 99.33V44.62M308.55 44.62h2" stroke="#2fc82f" stroke-width="1.5" fill="none"/>
<rect x="314.55" y="155.91" width="4" height="10.49" fill="#fff" stroke="#6464ff" stroke-width="1"/>
<path d="M316.55 155.91V143.92M315.55 143.92h2" stroke="#6464ff" stroke-width="1.2" fill="none"/>
<path d="M330.28 166.03V164.53M329.28 164.53h2" stroke="#ff9292" stroke-width="1.2" fill="none"/>
<rect x="335.28" y="93.33" width="4" height="73.07" fill="#fff" stroke="#2fc82f" stroke-width="1"/>
<path d="M337.28 93.33V53.99M336.28 53.99h2" stroke="#2fc82f" stroke-width="1.5" fill="none"/>
<rect x="342.28" y="158.16" width="4" height="8.24" fill="#fff" stroke="#6464ff" stroke-width="1"/>
<path d="M344.28 158.16V146.17M343.28 146.17h2" stroke="#6464ff" stroke-width="1.2" fill="none"/>
<path d="M163.8 53.24V50.24H171V53.24" fill="none" stroke="#222" stroke-width="0.9"/>
<text x="167.4" y="49.44" class="st" text-anchor="middle">**</text>
<path d="M171.6 86.22V83.22H178.8V86.22" fill="none" stroke="#222" stroke-width="0.9"/>
<text x="175.7" y="80.72" class="hs" text-anchor="middle">##</text>
<path d="M190.43 74.6V71.6H206.83V74.6M198.63 71.6v3" fill="none" stroke="#222" stroke-width="0.9"/>
<text x="194.53" y="70.8" class="st" text-anchor="middle">**</text>
<text x="203.53" y="69.1" class="hs" text-anchor="middle">##</text>
<path d="M218.16 116.57V113.57H234.56V116.57M226.36 113.57v3" fill="none" stroke="#222" stroke-width="0.9"/>
<text x="222.26" y="112.77" class="st" text-anchor="middle">**</text>
<text x="231.26" y="111.07" class="hs" text-anchor="middle">##</text>
<path d="M245.89 145.79V142.79H262.29V145.79M254.09 142.79v3" fill="none" stroke="#222" stroke-width="0.9"/>
<text x="249.99" y="141.99" class="st" text-anchor="middle">*</text>
<text x="258.99" y="140.29" class="hs" text-anchor="middle">#</text>
<path d="M273.62 151.79V148.79H290.02V151.79M281.82 148.79v3" fill="none" stroke="#222" stroke-width="0.9"/>
<text x="277.72" y="147.99" class="st" text-anchor="middle">*</text>
<text x="286.72" y="146.29" class="hs" text-anchor="middle">#</text>
<path d="M301.35 43.5V40.5H317.75V43.5M309.55 40.5v3" fill="none" stroke="#222" stroke-width="0.9"/>
<text x="305.45" y="39.7" class="st" text-anchor="middle">**</text>
<text x="314.45" y="38" class="hs" text-anchor="middle">##</text>
<path d="M329.08 51.74V48.74H345.48V51.74M337.28 48.74v3" fill="none" stroke="#222" stroke-width="0.9"/>
<text x="333.18" y="47.94" class="st" text-anchor="middle">**</text>
<text x="342.18" y="46.24" class="hs" text-anchor="middle">##</text>
<path d="M517.1 37.7V166.5H711.1" fill="none" stroke="#3a3a3a" stroke-width="1"/>
<path d="M512.1 166.5H517.1M512.1 123.54H517.1M512.1 80.58H517.1M512.1 37.62H517.1M514.5 152.17H517.1M514.5 137.87H517.1M514.5 109.21H517.1M514.5 94.91H517.1M514.5 66.25H517.1M514.5 51.95H517.1M528.4 166.5v3.4M556.45 166.5v3.4M584.5 166.5v3.4M612.55 166.5v3.4M640.6 166.5v3.4M668.65 166.5v3.4M696.7 166.5v3.4" fill="none" stroke="#3a3a3a" stroke-width="0.9"/>
<text x="509.9" y="168.9" class="tk" text-anchor="end">0</text>
<text x="509.9" y="125.94" class="tk" text-anchor="end">2000</text>
<text x="509.9" y="82.98" class="tk" text-anchor="end">4000</text>
<text x="509.9" y="40.02" class="tk" text-anchor="end">6000</text>
<text transform="translate(528.4 179.4) scale(0.86 1)" class="ct" text-anchor="middle">CTX</text>
<text transform="translate(556.45 179.4) scale(0.86 1)" class="ct" text-anchor="middle">HP</text>
<text transform="translate(584.5 179.4) scale(0.86 1)" class="ct" text-anchor="middle">FT</text>
<text transform="translate(612.55 179.4) scale(0.86 1)" class="ct" text-anchor="middle">CBC</text>
<text transform="translate(640.6 179.4) scale(0.86 1)" class="ct" text-anchor="middle">CP</text>
<text transform="translate(668.65 179.4) scale(0.86 1)" class="ct" text-anchor="middle">HY</text>
<text transform="translate(696.7 179.4) scale(0.86 1)" class="ct" text-anchor="middle">TH</text>
<text x="614" y="23" class="ti" text-anchor="middle">Phosphoenolpyruvate</text>
<text transform="translate(490.2 102.5) rotate(-90)" class="yl" text-anchor="middle">Relative Intensity</text>
<path d="M521.4 166.5V158.98M520.4 158.98h2" stroke="#ff9292" stroke-width="1.2" fill="none"/>
<path d="M577.5 166.5V160.7M576.5 160.7h2" stroke="#ff9292" stroke-width="1.2" fill="none"/>
<path d="M612.55 166.5V162.2M611.55 162.2h2" stroke="#2fc82f" stroke-width="1.5" fill="none"/>
<rect x="638.6" y="98.84" width="4" height="67.66" fill="#fff" stroke="#2fc82f" stroke-width="1"/>
<path d="M640.6 98.84V63.4M639.6 63.4h2" stroke="#2fc82f" stroke-width="1.5" fill="none"/>
<rect x="645.6" y="148.24" width="4" height="18.26" fill="#fff" stroke="#6464ff" stroke-width="1"/>
<path d="M647.6 148.24V139.01M646.6 139.01h2" stroke="#6464ff" stroke-width="1.2" fill="none"/>
<rect x="666.65" y="157.26" width="4" height="9.24" fill="#fff" stroke="#2fc82f" stroke-width="1"/>
<path d="M668.65 157.26V152.54M667.65 152.54h2" stroke="#2fc82f" stroke-width="1.5" fill="none"/>
<rect x="673.65" y="161.77" width="4" height="4.73" fill="#fff" stroke="#6464ff" stroke-width="1"/>
<path d="M675.65 161.77V158.98M674.65 158.98h2" stroke="#6464ff" stroke-width="1.2" fill="none"/>
<path d="M696.7 166.5V162.63M695.7 162.63h2" stroke="#2fc82f" stroke-width="1.5" fill="none"/>
<path d="M703.7 166.5V164.35M702.7 164.35h2" stroke="#6464ff" stroke-width="1.2" fill="none"/>
<path d="M632.4 61.67V58.67H648.8V61.67M640.6 58.67v3" fill="none" stroke="#222" stroke-width="0.9"/>
<text x="636.5" y="57.87" class="st" text-anchor="middle">**</text>
<text x="645.5" y="56.17" class="hs" text-anchor="middle">##</text>
<path d="M661.55 149.52V146.52H668.75V149.52" fill="none" stroke="#222" stroke-width="0.9"/>
<text x="665.15" y="145.72" class="st" text-anchor="middle">**</text>
<path d="M158 257.6V386.3H352.3" fill="none" stroke="#3a3a3a" stroke-width="1"/>
<path d="M153 386.3H158M153 343.4H158M153 300.5H158M153 257.6H158M155.4 371.99H158M155.4 357.71H158M155.4 329.09H158M155.4 314.81H158M155.4 286.19H158M155.4 271.91H158M169.3 386.3v3.4M197.38 386.3v3.4M225.46 386.3v3.4M253.54 386.3v3.4M281.62 386.3v3.4M309.7 386.3v3.4M337.78 386.3v3.4" fill="none" stroke="#3a3a3a" stroke-width="0.9"/>
<text x="150.8" y="388.7" class="tk" text-anchor="end">0</text>
<text x="150.8" y="345.8" class="tk" text-anchor="end">2000</text>
<text x="150.8" y="302.9" class="tk" text-anchor="end">4000</text>
<text x="150.8" y="260" class="tk" text-anchor="end">6000</text>
<text transform="translate(169.3 399.8) scale(0.86 1)" class="ct" text-anchor="middle">CTX</text>
<text transform="translate(197.38 399.8) scale(0.86 1)" class="ct" text-anchor="middle">HP</text>
<text transform="translate(225.46 399.8) scale(0.86 1)" class="ct" text-anchor="middle">FT</text>
<text transform="translate(253.54 399.8) scale(0.86 1)" class="ct" text-anchor="middle">CBC</text>
<text transform="translate(281.62 399.8) scale(0.86 1)" class="ct" text-anchor="middle">CP</text>
<text transform="translate(309.7 399.8) scale(0.86 1)" class="ct" text-anchor="middle">HY</text>
<text transform="translate(337.78 399.8) scale(0.86 1)" class="ct" text-anchor="middle">TH</text>
<text x="255.1" y="243" class="ti" text-anchor="middle">Fumarate</text>
<text transform="translate(130.6 323.7) rotate(-90)" class="yl" text-anchor="middle">Relative Intensity</text>
<rect x="160.3" y="377.08" width="4" height="9.22" fill="#fff" stroke="#ff9292" stroke-width="1"/>
<path d="M162.3 377.08V321.95M161.3 321.95h2" stroke="#ff9292" stroke-width="1.2" fill="none"/>
<rect x="174.3" y="385.23" width="4" height="1.07" fill="#fff" stroke="#6464ff" stroke-width="1"/>
<path d="M176.3 385.23V364.21M175.3 364.21h2" stroke="#6464ff" stroke-width="1.2" fill="none"/>
<path d="M197.38 386.3V383.08M196.38 383.08h2" stroke="#2fc82f" stroke-width="1.5" fill="none"/>
<rect x="216.46" y="363.78" width="4" height="22.52" fill="#fff" stroke="#ff9292" stroke-width="1"/>
<path d="M218.46 363.78V302.64M217.46 302.64h2" stroke="#ff9292" stroke-width="1.2" fill="none"/>
<rect x="230.46" y="364.21" width="4" height="22.09" fill="#fff" stroke="#6464ff" stroke-width="1"/>
<path d="M232.46 364.21V284.41M231.46 284.41h2" stroke="#6464ff" stroke-width="1.2" fill="none"/>
<rect x="272.62" y="284.41" width="4" height="101.89" fill="#fff" stroke="#ff9292" stroke-width="1"/>
<path d="M274.62 284.41V257.6M273.62 257.6h2" stroke="#ff9292" stroke-width="1.2" fill="none"/>
<rect x="286.62" y="341.25" width="4" height="45.05" fill="#fff" stroke="#6464ff" stroke-width="1"/>
<path d="M288.62 341.25V257.6M287.62 257.6h2" stroke="#6464ff" stroke-width="1.2" fill="none"/>
<rect x="307.7" y="381.58" width="4" height="4.72" fill="#fff" stroke="#2fc82f" stroke-width="1"/>
<path d="M309.7 381.58V354.12M308.7 354.12h2" stroke="#2fc82f" stroke-width="1.5" fill="none"/>
<path d="M162.2 320.02V317.02H169.4V320.02" fill="none" stroke="#222" stroke-width="0.9"/>
<text x="165.8" y="316.22" class="st" text-anchor="middle">**</text>
<path d="M170 362.06V359.06H177.2V362.06" fill="none" stroke="#222" stroke-width="0.9"/>
<text x="174.1" y="356.56" class="hs" text-anchor="middle">##</text>
<path d="M218.36 300.71V297.71H225.56V300.71" fill="none" stroke="#222" stroke-width="0.9"/>
<text x="221.96" y="296.91" class="st" text-anchor="middle">**</text>
<path d="M226.16 282.48V279.48H233.36V282.48" fill="none" stroke="#222" stroke-width="0.9"/>
<text x="230.26" y="276.98" class="hs" text-anchor="middle">##</text>
<path d="M273.42 257.17V254.17H289.82V257.17M281.62 254.17v3" fill="none" stroke="#222" stroke-width="0.9"/>
<text x="277.52" y="251.77" class="st" text-anchor="middle">**</text>
<text x="286.52" y="250.07" class="hs" text-anchor="middle">##</text>
<path d="M301.5 351.55V348.55H317.9V351.55M309.7 348.55v3" fill="none" stroke="#222" stroke-width="0.9"/>
<text x="305.6" y="347.75" class="st" text-anchor="middle">**</text>
<text x="314.6" y="346.05" class="hs" text-anchor="middle">##</text>
<path d="M523 261.2V387.3H712.4" fill="none" stroke="#3a3a3a" stroke-width="1"/>
<path d="M518 387.3H523M518 334.85H523M518 282.4H523M520.4 369.82H523M520.4 352.33H523M520.4 317.37H523M520.4 299.88H523M520.4 264.92H523M534.2 387.3v3.4M561.48 387.3v3.4M588.76 387.3v3.4M616.04 387.3v3.4M643.32 387.3v3.4M670.6 387.3v3.4M697.88 387.3v3.4" fill="none" stroke="#3a3a3a" stroke-width="0.9"/>
<text x="515.8" y="389.7" class="tk" text-anchor="end">0</text>
<text x="515.8" y="337.25" class="tk" text-anchor="end">50000</text>
<text x="515.8" y="284.8" class="tk" text-anchor="end">100000</text>
<text transform="translate(534.2 399.8) scale(0.86 1)" class="ct" text-anchor="middle">CTX</text>
<text transform="translate(561.48 399.8) scale(0.86 1)" class="ct" text-anchor="middle">HP</text>
<text transform="translate(588.76 399.8) scale(0.86 1)" class="ct" text-anchor="middle">FT</text>
<text transform="translate(616.04 399.8) scale(0.86 1)" class="ct" text-anchor="middle">CBC</text>
<text transform="translate(643.32 399.8) scale(0.86 1)" class="ct" text-anchor="middle">CP</text>
<text transform="translate(670.6 399.8) scale(0.86 1)" class="ct" text-anchor="middle">HY</text>
<text transform="translate(697.88 399.8) scale(0.86 1)" class="ct" text-anchor="middle">TH</text>
<text x="617.3" y="246.8" class="ti" text-anchor="middle">Malate</text>
<text transform="translate(490.8 325.2) rotate(-90)" class="yl" text-anchor="middle">Relative Intensity</text>
<rect x="525.5" y="343.24" width="4" height="44.06" fill="#fff" stroke="#ff9292" stroke-width="1"/>
<path d="M527.5 343.24V327.51M526.5 327.51h2" stroke="#ff9292" stroke-width="1.2" fill="none"/>
<rect x="532.2" y="364.22" width="4" height="23.08" fill="#fff" stroke="#2fc82f" stroke-width="1"/>
<path d="M534.2 364.22V357.93M533.2 357.93h2" stroke="#2fc82f" stroke-width="1.5" fill="none"/>
<rect x="538.9" y="361.07" width="4" height="26.23" fill="#fff" stroke="#6464ff" stroke-width="1"/>
<path d="M540.9 361.07V354.78M539.9 354.78h2" stroke="#6464ff" stroke-width="1.2" fill="none"/>
<rect x="552.78" y="334.33" width="4" height="52.97" fill="#fff" stroke="#ff9292" stroke-width="1"/>
<path d="M554.78 334.33V326.46M553.78 326.46h2" stroke="#ff9292" stroke-width="1.2" fill="none"/>
<rect x="559.48" y="356.88" width="4" height="30.42" fill="#fff" stroke="#2fc82f" stroke-width="1"/>
<path d="M561.48 356.88V348.49M560.48 348.49h2" stroke="#2fc82f" stroke-width="1.5" fill="none"/>
<rect x="566.18" y="349.54" width="4" height="37.76" fill="#fff" stroke="#6464ff" stroke-width="1"/>
<path d="M568.18 349.54V341.14M567.18 341.14h2" stroke="#6464ff" stroke-width="1.2" fill="none"/>
<rect x="580.06" y="319.12" width="4" height="68.19" fill="#fff" stroke="#ff9292" stroke-width="1"/>
<path d="M582.06 319.12V284.5M581.06 284.5h2" stroke="#ff9292" stroke-width="1.2" fill="none"/>
<rect x="586.76" y="360.55" width="4" height="26.75" fill="#fff" stroke="#2fc82f" stroke-width="1"/>
<path d="M588.76 360.55V355.83M587.76 355.83h2" stroke="#2fc82f" stroke-width="1.5" fill="none"/>
<rect x="593.46" y="331.7" width="4" height="55.6" fill="#fff" stroke="#6464ff" stroke-width="1"/>
<path d="M595.46 331.7V323.84M594.46 323.84h2" stroke="#6464ff" stroke-width="1.2" fill="none"/>
<rect x="607.34" y="346.39" width="4" height="40.91" fill="#fff" stroke="#ff9292" stroke-width="1"/>
<path d="M609.34 346.39V339.05M608.34 339.05h2" stroke="#ff9292" stroke-width="1.2" fill="none"/>
<rect x="614.04" y="360.03" width="4" height="27.27" fill="#fff" stroke="#2fc82f" stroke-width="1"/>
<path d="M616.04 360.03V354.78M615.04 354.78h2" stroke="#2fc82f" stroke-width="1.5" fill="none"/>
<rect x="620.74" y="352.68" width="4" height="34.62" fill="#fff" stroke="#6464ff" stroke-width="1"/>
<path d="M622.74 352.68V343.24M621.74 343.24h2" stroke="#6464ff" stroke-width="1.2" fill="none"/>
<rect x="634.62" y="345.34" width="4" height="41.96" fill="#fff" stroke="#ff9292" stroke-width="1"/>
<path d="M636.62 345.34V338M635.62 338h2" stroke="#ff9292" stroke-width="1.2" fill="none"/>
<rect x="641.32" y="381.01" width="4" height="6.29" fill="#fff" stroke="#2fc82f" stroke-width="1"/>
<path d="M643.32 381.01V374.71M642.32 374.71h2" stroke="#2fc82f" stroke-width="1.5" fill="none"/>
<rect x="648.02" y="354.26" width="4" height="33.04" fill="#fff" stroke="#6464ff" stroke-width="1"/>
<path d="M650.02 354.26V343.77M649.02 343.77h2" stroke="#6464ff" stroke-width="1.2" fill="none"/>
<rect x="661.9" y="328.56" width="4" height="58.74" fill="#fff" stroke="#ff9292" stroke-width="1"/>
<path d="M663.9 328.56V305.48M662.9 305.48h2" stroke="#ff9292" stroke-width="1.2" fill="none"/>
<rect x="668.6" y="370.52" width="4" height="16.78" fill="#fff" stroke="#2fc82f" stroke-width="1"/>
<path d="M670.6 370.52V356.35M669.6 356.35h2" stroke="#2fc82f" stroke-width="1.5" fill="none"/>
<rect x="675.3" y="349.01" width="4" height="38.29" fill="#fff" stroke="#6464ff" stroke-width="1"/>
<path d="M677.3 349.01V338.52M676.3 338.52h2" stroke="#6464ff" stroke-width="1.2" fill="none"/>
<rect x="689.18" y="303.38" width="4" height="83.92" fill="#fff" stroke="#ff9292" stroke-width="1"/>
<path d="M691.18 303.38V292.89M690.18 292.89h2" stroke="#ff9292" stroke-width="1.2" fill="none"/>
<rect x="695.88" y="347.96" width="4" height="39.34" fill="#fff" stroke="#2fc82f" stroke-width="1"/>
<path d="M697.88 347.96V334.85M696.88 334.85h2" stroke="#2fc82f" stroke-width="1.5" fill="none"/>
<rect x="702.58" y="327.51" width="4" height="59.79" fill="#fff" stroke="#6464ff" stroke-width="1"/>
<path d="M704.58 327.51V313.87M703.58 313.87h2" stroke="#6464ff" stroke-width="1.2" fill="none"/>
<path d="M527.4 323.16V320.16H534.3V323.16" fill="none" stroke="#222" stroke-width="0.9"/>
<text x="530.85" y="319.36" class="st" text-anchor="middle">*</text>
<path d="M554.68 322.64V319.64H561.58V322.64" fill="none" stroke="#222" stroke-width="0.9"/>
<text x="558.13" y="318.84" class="st" text-anchor="middle">*</text>
<path d="M562.18 338.37V335.37H569.08V338.37" fill="none" stroke="#222" stroke-width="0.9"/>
<text x="566.13" y="332.87" class="hs" text-anchor="middle">#</text>
<path d="M581.96 281.73V278.73H588.86V281.73" fill="none" stroke="#222" stroke-width="0.9"/>
<text x="585.41" y="277.93" class="st" text-anchor="middle">**</text>
<path d="M589.46 320.02V317.02H596.36V320.02" fill="none" stroke="#222" stroke-width="0.9"/>
<text x="593.41" y="314.52" class="hs" text-anchor="middle">#</text>
<path d="M636.52 334.7V331.7H643.42V334.7" fill="none" stroke="#222" stroke-width="0.9"/>
<text x="639.97" y="330.9" class="st" text-anchor="middle">**</text>
<path d="M644.02 344.14V341.14H650.92V344.14" fill="none" stroke="#222" stroke-width="0.9"/>
<text x="647.97" y="338.64" class="hs" text-anchor="middle">##</text>
<path d="M663.8 302.18V299.18H670.7V302.18" fill="none" stroke="#222" stroke-width="0.9"/>
<text x="667.25" y="298.38" class="st" text-anchor="middle">**</text>
<path d="M671.3 335.75V332.75H678.2V335.75" fill="none" stroke="#222" stroke-width="0.9"/>
<text x="675.25" y="330.25" class="hs" text-anchor="middle">##</text>
<path d="M691.08 289.07V286.07H697.98V289.07" fill="none" stroke="#222" stroke-width="0.9"/>
<text x="694.53" y="285.27" class="st" text-anchor="middle">*</text>
<path d="M698.58 310.58V307.58H705.48V310.58" fill="none" stroke="#222" stroke-width="0.9"/>
<text x="702.53" y="305.08" class="hs" text-anchor="middle">#</text>
<path d="M160.1 437.9V565.1H351.8" fill="none" stroke="#3a3a3a" stroke-width="1"/>
<path d="M155.1 565.1H160.1M155.1 533.3H160.1M155.1 501.5H160.1M155.1 469.7H160.1M155.1 437.9H160.1M157.5 554.5H160.1M157.5 543.9H160.1M157.5 522.7H160.1M157.5 512.1H160.1M157.5 490.9H160.1M157.5 480.3H160.1M157.5 459.1H160.1M157.5 448.5H160.1M171.4 565.1v3.4M199.08 565.1v3.4M226.76 565.1v3.4M254.44 565.1v3.4M282.12 565.1v3.4M309.8 565.1v3.4M337.48 565.1v3.4" fill="none" stroke="#3a3a3a" stroke-width="0.9"/>
<text x="152.9" y="567.5" class="tk" text-anchor="end">0</text>
<text x="152.9" y="535.7" class="tk" text-anchor="end">10000</text>
<text x="152.9" y="503.9" class="tk" text-anchor="end">20000</text>
<text x="152.9" y="472.1" class="tk" text-anchor="end">30000</text>
<text x="152.9" y="440.3" class="tk" text-anchor="end">40000</text>
<text transform="translate(171.4 578) scale(0.86 1)" class="ct" text-anchor="middle">CTX</text>
<text transform="translate(199.08 578) scale(0.86 1)" class="ct" text-anchor="middle">HP</text>
<text transform="translate(226.76 578) scale(0.86 1)" class="ct" text-anchor="middle">FT</text>
<text transform="translate(254.44 578) scale(0.86 1)" class="ct" text-anchor="middle">CBC</text>
<text transform="translate(282.12 578) scale(0.86 1)" class="ct" text-anchor="middle">CP</text>
<text transform="translate(309.8 578) scale(0.86 1)" class="ct" text-anchor="middle">HY</text>
<text transform="translate(337.48 578) scale(0.86 1)" class="ct" text-anchor="middle">TH</text>
<text x="255.3" y="423.6" class="ti" text-anchor="middle">2-Oxoglutarate</text>
<text transform="translate(130.2 502.4) rotate(-90)" class="yl" text-anchor="middle">Relative Intensity</text>
<rect x="162.4" y="518.99" width="4" height="46.11" fill="#fff" stroke="#ff9292" stroke-width="1"/>
<path d="M164.4 518.99V490.37M163.4 490.37h2" stroke="#ff9292" stroke-width="1.2" fill="none"/>
<rect x="169.4" y="540.3" width="4" height="24.8" fill="#fff" stroke="#2fc82f" stroke-width="1"/>
<path d="M171.4 540.3V507.86M170.4 507.86h2" stroke="#2fc82f" stroke-width="1.5" fill="none"/>
<rect x="176.4" y="532.35" width="4" height="32.75" fill="#fff" stroke="#6464ff" stroke-width="1"/>
<path d="M178.4 532.35V507.22M177.4 507.22h2" stroke="#6464ff" stroke-width="1.2" fill="none"/>
<rect x="190.08" y="520.58" width="4" height="44.52" fill="#fff" stroke="#ff9292" stroke-width="1"/>
<path d="M192.08 520.58V494.19M191.08 494.19h2" stroke="#ff9292" stroke-width="1.2" fill="none"/>
<rect x="197.08" y="534.89" width="4" height="30.21" fill="#fff" stroke="#2fc82f" stroke-width="1"/>
<path d="M199.08 534.89V497.68M198.08 497.68h2" stroke="#2fc82f" stroke-width="1.5" fill="none"/>
<rect x="204.08" y="523.76" width="4" height="41.34" fill="#fff" stroke="#6464ff" stroke-width="1"/>
<path d="M206.08 523.76V499.91M205.08 499.91h2" stroke="#6464ff" stroke-width="1.2" fill="none"/>
<rect x="217.76" y="487.19" width="4" height="77.91" fill="#fff" stroke="#ff9292" stroke-width="1"/>
<path d="M219.76 487.19V451.57M218.76 451.57h2" stroke="#ff9292" stroke-width="1.2" fill="none"/>
<rect x="224.76" y="519.94" width="4" height="45.16" fill="#fff" stroke="#2fc82f" stroke-width="1"/>
<path d="M226.76 519.94V500.86M225.76 500.86h2" stroke="#2fc82f" stroke-width="1.5" fill="none"/>
<rect x="231.76" y="504.68" width="4" height="60.42" fill="#fff" stroke="#6464ff" stroke-width="1"/>
<path d="M233.76 504.68V477.65M232.76 477.65h2" stroke="#6464ff" stroke-width="1.2" fill="none"/>
<rect x="245.44" y="496.09" width="4" height="69.01" fill="#fff" stroke="#ff9292" stroke-width="1"/>
<path d="M247.44 496.09V467.16M246.44 467.16h2" stroke="#ff9292" stroke-width="1.2" fill="none"/>
<rect x="252.44" y="488.14" width="4" height="76.96" fill="#fff" stroke="#2fc82f" stroke-width="1"/>
<path d="M254.44 488.14V461.11M253.44 461.11h2" stroke="#2fc82f" stroke-width="1.5" fill="none"/>
<rect x="259.44" y="505.63" width="4" height="59.47" fill="#fff" stroke="#6464ff" stroke-width="1"/>
<path d="M261.44 505.63V472.24M260.44 472.24h2" stroke="#6464ff" stroke-width="1.2" fill="none"/>
<path d="M282.12 565.1V564.62M281.12 564.62h2" stroke="#2fc82f" stroke-width="1.5" fill="none"/>
<path d="M316.8 565.1V564.62M315.8 564.62h2" stroke="#6464ff" stroke-width="1.2" fill="none"/>
<path d="M164.3 488.6V485.6H171.5V488.6" fill="none" stroke="#222" stroke-width="0.9"/>
<text x="167.9" y="484.8" class="st" text-anchor="middle">*</text>
<path d="M191.98 492.42V489.42H199.18V492.42" fill="none" stroke="#222" stroke-width="0.9"/>
<text x="195.58" y="488.62" class="st" text-anchor="middle">*</text>
<path d="M219.66 448.53V445.53H226.86V448.53" fill="none" stroke="#222" stroke-width="0.9"/>
<text x="223.26" y="444.73" class="st" text-anchor="middle">**</text>
<path d="M227.46 474.29V471.29H234.66V474.29" fill="none" stroke="#222" stroke-width="0.9"/>
<text x="231.56" y="468.79" class="hs" text-anchor="middle">#</text>
<path d="M517.4 436.4V565H712.2" fill="none" stroke="#3a3a3a" stroke-width="1"/>
<path d="M512.4 565H517.4M512.4 528.3H517.4M512.4 491.6H517.4M512.4 454.9H517.4M514.8 552.76H517.4M514.8 540.54H517.4M514.8 516.06H517.4M514.8 503.84H517.4M514.8 479.36H517.4M514.8 467.14H517.4M514.8 442.66H517.4M528.6 565v3.4M556.7 565v3.4M584.8 565v3.4M612.9 565v3.4M641 565v3.4M669.1 565v3.4M697.2 565v3.4" fill="none" stroke="#3a3a3a" stroke-width="0.9"/>
<text x="510.2" y="567.4" class="tk" text-anchor="end">0</text>
<text x="510.2" y="530.7" class="tk" text-anchor="end">2000</text>
<text x="510.2" y="494" class="tk" text-anchor="end">4000</text>
<text x="510.2" y="457.3" class="tk" text-anchor="end">6000</text>
<text transform="translate(528.6 578) scale(0.86 1)" class="ct" text-anchor="middle">CTX</text>
<text transform="translate(556.7 578) scale(0.86 1)" class="ct" text-anchor="middle">HP</text>
<text transform="translate(584.8 578) scale(0.86 1)" class="ct" text-anchor="middle">FT</text>
<text transform="translate(612.9 578) scale(0.86 1)" class="ct" text-anchor="middle">CBC</text>
<text transform="translate(641 578) scale(0.86 1)" class="ct" text-anchor="middle">CP</text>
<text transform="translate(669.1 578) scale(0.86 1)" class="ct" text-anchor="middle">HY</text>
<text transform="translate(697.2 578) scale(0.86 1)" class="ct" text-anchor="middle">TH</text>
<text x="614.7" y="421" class="ti" text-anchor="middle">Citrate</text>
<text transform="translate(490.9 500.8) rotate(-90)" class="yl" text-anchor="middle">Relative Intensity</text>
<rect x="526.6" y="561.33" width="4" height="3.67" fill="#fff" stroke="#2fc82f" stroke-width="1"/>
<path d="M528.6 561.33V538.39M527.6 538.39h2" stroke="#2fc82f" stroke-width="1.5" fill="none"/>
<path d="M549.7 565V558.21M548.7 558.21h2" stroke="#ff9292" stroke-width="1.2" fill="none"/>
<path d="M556.7 565V559.5M555.7 559.5h2" stroke="#2fc82f" stroke-width="1.5" fill="none"/>
<rect x="582.8" y="553.62" width="4" height="11.38" fill="#fff" stroke="#2fc82f" stroke-width="1"/>
<path d="M584.8 553.62V525.91M583.8 525.91h2" stroke="#2fc82f" stroke-width="1.5" fill="none"/>
<path d="M612.9 565V562.43M611.9 562.43h2" stroke="#2fc82f" stroke-width="1.5" fill="none"/>
<path d="M619.9 564.45V554.72M618.9 554.72h2" stroke="#6464ff" stroke-width="1.2" fill="none"/>
<rect x="639" y="473.25" width="4" height="91.75" fill="#fff" stroke="#2fc82f" stroke-width="1"/>
<path d="M641 473.25V436.55M640 436.55h2" stroke="#2fc82f" stroke-width="1.5" fill="none"/>
<rect x="646" y="553.62" width="4" height="11.38" fill="#fff" stroke="#6464ff" stroke-width="1"/>
<path d="M648 553.62V511.23M647 511.23h2" stroke="#6464ff" stroke-width="1.2" fill="none"/>
<rect x="660.1" y="562.61" width="4" height="2.39" fill="#fff" stroke="#ff9292" stroke-width="1"/>
<path d="M662.1 562.61V535.64M661.1 535.64h2" stroke="#ff9292" stroke-width="1.2" fill="none"/>
<rect x="667.1" y="555.46" width="4" height="9.54" fill="#fff" stroke="#2fc82f" stroke-width="1"/>
<path d="M669.1 555.46V518.57M668.1 518.57h2" stroke="#2fc82f" stroke-width="1.5" fill="none"/>
<rect x="674.1" y="559.13" width="4" height="5.87" fill="#fff" stroke="#6464ff" stroke-width="1"/>
<path d="M676.1 559.13V534.72M675.1 534.72h2" stroke="#6464ff" stroke-width="1.2" fill="none"/>
<rect x="688.2" y="558.94" width="4" height="6.06" fill="#fff" stroke="#ff9292" stroke-width="1"/>
<path d="M690.2 558.94V527.38M689.2 527.38h2" stroke="#ff9292" stroke-width="1.2" fill="none"/>
<path d="M697.2 565V562.8M696.2 562.8h2" stroke="#2fc82f" stroke-width="1.5" fill="none"/>
<rect x="702.2" y="562.25" width="4" height="2.75" fill="#fff" stroke="#6464ff" stroke-width="1"/>
<path d="M704.2 562.25V538.94M703.2 538.94h2" stroke="#6464ff" stroke-width="1.2" fill="none"/>
<path d="M520.4 531.12V528.12H536.8V531.12M528.6 528.12v3" fill="none" stroke="#222" stroke-width="0.9"/>
<text x="524.5" y="527.32" class="st" text-anchor="middle">**</text>
<text x="533.5" y="525.62" class="hs" text-anchor="middle">##</text>
<path d="M576.6 515.7V512.7H593V515.7M584.8 512.7v3" fill="none" stroke="#222" stroke-width="0.9"/>
<text x="580.7" y="511.9" class="st" text-anchor="middle">**</text>
<text x="589.7" y="510.2" class="hs" text-anchor="middle">##</text>
<path d="M632.8 434.23V431.23H649.2V434.23M641 431.23v3" fill="none" stroke="#222" stroke-width="0.9"/>
<text x="636.9" y="430.43" class="st" text-anchor="middle">**</text>
<text x="645.9" y="428.73" class="hs" text-anchor="middle">##</text>
<path d="M660.9 507.08V504.08H677.3V507.08M669.1 504.08v3" fill="none" stroke="#222" stroke-width="0.9"/>
<text x="665" y="503.28" class="st" text-anchor="middle">*</text>
<text x="674" y="501.58" class="hs" text-anchor="middle">#</text>
<path d="M690.1 517.35V514.35H697.3V517.35" fill="none" stroke="#222" stroke-width="0.9"/>
<text x="693.7" y="513.55" class="st" text-anchor="middle">**</text>
<path d="M697.9 533.87V530.87H705.1V533.87" fill="none" stroke="#222" stroke-width="0.9"/>
<text x="702" y="528.37" class="hs" text-anchor="middle">##</text>
<rect x="716" y="8.6" width="17.5" height="6.2" fill="#fff" stroke="#ff9292" stroke-width="1.15"/>
<text x="743" y="14.8" class="lg">Sham</text>
<rect x="716" y="24.9" width="17.5" height="6.2" fill="#fff" stroke="#2fc82f" stroke-width="1.15"/>
<text x="743" y="31.1" class="lg">MCAO/R</text>
<rect x="716" y="40.9" width="17.5" height="6.2" fill="#fff" stroke="#6464ff" stroke-width="1.15"/>
<text x="743" y="47.1" class="lg">MCAO/R+AC</text>
<rect x="716.3" y="222.3" width="17.5" height="6.2" fill="#fff" stroke="#ff9292" stroke-width="1.15"/>
<text x="742.6" y="227.9" class="lg">Sham</text>
<rect x="716.3" y="238.6" width="17.5" height="6.2" fill="#fff" stroke="#2fc82f" stroke-width="1.15"/>
<text x="742.6" y="244.2" class="lg">MCAO/R</text>
<rect x="716.3" y="254.6" width="17.5" height="6.2" fill="#fff" stroke="#6464ff" stroke-width="1.15"/>
<text x="742.6" y="260.2" class="lg">MCAO/R+AC</text>
<rect x="759.5" y="63.4" width="8" height="116.6" fill="url(#jet)" stroke="#333" stroke-width="0.4"/>
<path d="M766 86.72h1.5M759.5 86.72h1.5" stroke="#222" stroke-width="0.5"/>
<text x="770.6" y="88.22" class="cb">80</text>
<path d="M766 110.04h1.5M759.5 110.04h1.5" stroke="#222" stroke-width="0.5"/>
<text x="770.6" y="111.54" class="cb">60</text>
<path d="M766 133.36h1.5M759.5 133.36h1.5" stroke="#222" stroke-width="0.5"/>
<text x="770.6" y="134.86" class="cb">40</text>
<path d="M766 156.68h1.5M759.5 156.68h1.5" stroke="#222" stroke-width="0.5"/>
<text x="770.6" y="158.18" class="cb">20</text>
<rect x="752.7" y="461.1" width="8" height="117.7" fill="url(#jet)" stroke="#333" stroke-width="0.4"/>
<path d="M759.2 484.64h1.5M752.7 484.64h1.5" stroke="#222" stroke-width="0.5"/>
<text x="763.6" y="486.14" class="cb">80</text>
<path d="M759.2 508.18h1.5M752.7 508.18h1.5" stroke="#222" stroke-width="0.5"/>
<text x="763.6" y="509.68" class="cb">60</text>
<path d="M759.2 531.72h1.5M752.7 531.72h1.5" stroke="#222" stroke-width="0.5"/>
<text x="763.6" y="533.22" class="cb">40</text>
<path d="M759.2 555.26h1.5M752.7 555.26h1.5" stroke="#222" stroke-width="0.5"/>
<text x="763.6" y="556.76" class="cb">20</text>
</svg></body></html>
